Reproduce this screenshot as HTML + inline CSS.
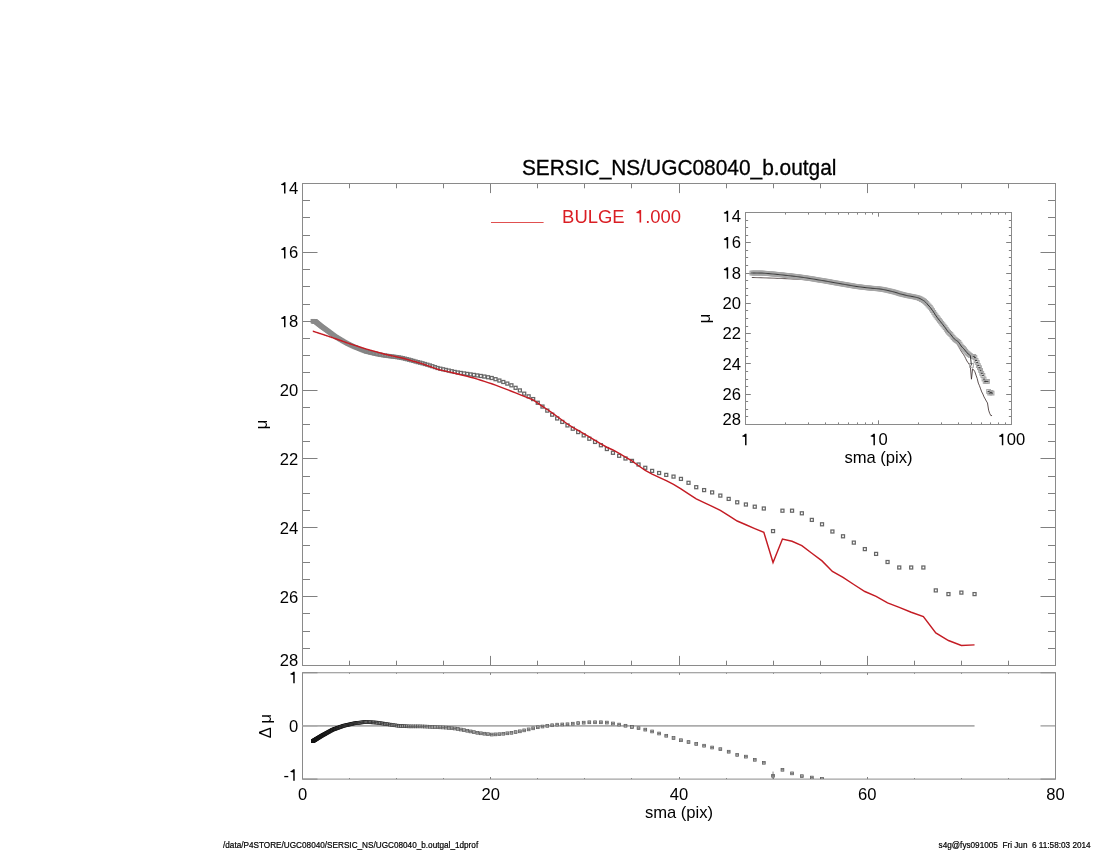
<!DOCTYPE html>
<html><head><meta charset="utf-8"><title>SERSIC_NS/UGC08040_b.outgal</title>
<style>
html,body{margin:0;padding:0;background:#fff;width:1100px;height:850px;overflow:hidden;}
svg{display:block;filter:blur(0.3px);font-family:"Liberation Sans",sans-serif;}
</style></head><body>
<svg width="1100" height="850" viewBox="0 0 1100 850">
<defs>
<clipPath id="cm"><rect x="302.5" y="183.5" width="753.0" height="482.0"/></clipPath>
<clipPath id="cr"><rect x="302.5" y="672.75" width="753.0" height="106.35000000000002"/></clipPath>
<clipPath id="ci"><rect x="745.5" y="212.5" width="266.0" height="212.0"/></clipPath>
</defs>
<rect width="1100" height="850" fill="#fff"/>
<line x1="302.50" y1="665.50" x2="302.50" y2="655.90" stroke="#808080" stroke-width="1"/>
<line x1="302.50" y1="183.50" x2="302.50" y2="193.10" stroke="#808080" stroke-width="1"/>
<line x1="349.50" y1="665.50" x2="349.50" y2="660.70" stroke="#808080" stroke-width="1"/>
<line x1="349.50" y1="183.50" x2="349.50" y2="188.30" stroke="#808080" stroke-width="1"/>
<line x1="396.50" y1="665.50" x2="396.50" y2="660.70" stroke="#808080" stroke-width="1"/>
<line x1="396.50" y1="183.50" x2="396.50" y2="188.30" stroke="#808080" stroke-width="1"/>
<line x1="443.50" y1="665.50" x2="443.50" y2="660.70" stroke="#808080" stroke-width="1"/>
<line x1="443.50" y1="183.50" x2="443.50" y2="188.30" stroke="#808080" stroke-width="1"/>
<line x1="490.50" y1="665.50" x2="490.50" y2="655.90" stroke="#808080" stroke-width="1"/>
<line x1="490.50" y1="183.50" x2="490.50" y2="193.10" stroke="#808080" stroke-width="1"/>
<line x1="537.50" y1="665.50" x2="537.50" y2="660.70" stroke="#808080" stroke-width="1"/>
<line x1="537.50" y1="183.50" x2="537.50" y2="188.30" stroke="#808080" stroke-width="1"/>
<line x1="584.50" y1="665.50" x2="584.50" y2="660.70" stroke="#808080" stroke-width="1"/>
<line x1="584.50" y1="183.50" x2="584.50" y2="188.30" stroke="#808080" stroke-width="1"/>
<line x1="631.50" y1="665.50" x2="631.50" y2="660.70" stroke="#808080" stroke-width="1"/>
<line x1="631.50" y1="183.50" x2="631.50" y2="188.30" stroke="#808080" stroke-width="1"/>
<line x1="679.50" y1="665.50" x2="679.50" y2="655.90" stroke="#808080" stroke-width="1"/>
<line x1="679.50" y1="183.50" x2="679.50" y2="193.10" stroke="#808080" stroke-width="1"/>
<line x1="726.50" y1="665.50" x2="726.50" y2="660.70" stroke="#808080" stroke-width="1"/>
<line x1="726.50" y1="183.50" x2="726.50" y2="188.30" stroke="#808080" stroke-width="1"/>
<line x1="773.50" y1="665.50" x2="773.50" y2="660.70" stroke="#808080" stroke-width="1"/>
<line x1="773.50" y1="183.50" x2="773.50" y2="188.30" stroke="#808080" stroke-width="1"/>
<line x1="820.50" y1="665.50" x2="820.50" y2="660.70" stroke="#808080" stroke-width="1"/>
<line x1="820.50" y1="183.50" x2="820.50" y2="188.30" stroke="#808080" stroke-width="1"/>
<line x1="867.50" y1="665.50" x2="867.50" y2="655.90" stroke="#808080" stroke-width="1"/>
<line x1="867.50" y1="183.50" x2="867.50" y2="193.10" stroke="#808080" stroke-width="1"/>
<line x1="914.50" y1="665.50" x2="914.50" y2="660.70" stroke="#808080" stroke-width="1"/>
<line x1="914.50" y1="183.50" x2="914.50" y2="188.30" stroke="#808080" stroke-width="1"/>
<line x1="961.50" y1="665.50" x2="961.50" y2="660.70" stroke="#808080" stroke-width="1"/>
<line x1="961.50" y1="183.50" x2="961.50" y2="188.30" stroke="#808080" stroke-width="1"/>
<line x1="1008.50" y1="665.50" x2="1008.50" y2="660.70" stroke="#808080" stroke-width="1"/>
<line x1="1008.50" y1="183.50" x2="1008.50" y2="188.30" stroke="#808080" stroke-width="1"/>
<line x1="1055.50" y1="665.50" x2="1055.50" y2="655.90" stroke="#808080" stroke-width="1"/>
<line x1="1055.50" y1="183.50" x2="1055.50" y2="193.10" stroke="#808080" stroke-width="1"/>
<line x1="302.50" y1="183.50" x2="317.50" y2="183.50" stroke="#808080" stroke-width="1"/>
<line x1="1055.50" y1="183.50" x2="1040.50" y2="183.50" stroke="#808080" stroke-width="1"/>
<line x1="302.50" y1="200.50" x2="310.00" y2="200.50" stroke="#808080" stroke-width="1"/>
<line x1="1055.50" y1="200.50" x2="1048.00" y2="200.50" stroke="#808080" stroke-width="1"/>
<line x1="302.50" y1="217.50" x2="310.00" y2="217.50" stroke="#808080" stroke-width="1"/>
<line x1="1055.50" y1="217.50" x2="1048.00" y2="217.50" stroke="#808080" stroke-width="1"/>
<line x1="302.50" y1="235.50" x2="310.00" y2="235.50" stroke="#808080" stroke-width="1"/>
<line x1="1055.50" y1="235.50" x2="1048.00" y2="235.50" stroke="#808080" stroke-width="1"/>
<line x1="302.50" y1="252.50" x2="317.50" y2="252.50" stroke="#808080" stroke-width="1"/>
<line x1="1055.50" y1="252.50" x2="1040.50" y2="252.50" stroke="#808080" stroke-width="1"/>
<line x1="302.50" y1="269.50" x2="310.00" y2="269.50" stroke="#808080" stroke-width="1"/>
<line x1="1055.50" y1="269.50" x2="1048.00" y2="269.50" stroke="#808080" stroke-width="1"/>
<line x1="302.50" y1="286.50" x2="310.00" y2="286.50" stroke="#808080" stroke-width="1"/>
<line x1="1055.50" y1="286.50" x2="1048.00" y2="286.50" stroke="#808080" stroke-width="1"/>
<line x1="302.50" y1="304.50" x2="310.00" y2="304.50" stroke="#808080" stroke-width="1"/>
<line x1="1055.50" y1="304.50" x2="1048.00" y2="304.50" stroke="#808080" stroke-width="1"/>
<line x1="302.50" y1="321.50" x2="317.50" y2="321.50" stroke="#808080" stroke-width="1"/>
<line x1="1055.50" y1="321.50" x2="1040.50" y2="321.50" stroke="#808080" stroke-width="1"/>
<line x1="302.50" y1="338.50" x2="310.00" y2="338.50" stroke="#808080" stroke-width="1"/>
<line x1="1055.50" y1="338.50" x2="1048.00" y2="338.50" stroke="#808080" stroke-width="1"/>
<line x1="302.50" y1="355.50" x2="310.00" y2="355.50" stroke="#808080" stroke-width="1"/>
<line x1="1055.50" y1="355.50" x2="1048.00" y2="355.50" stroke="#808080" stroke-width="1"/>
<line x1="302.50" y1="372.50" x2="310.00" y2="372.50" stroke="#808080" stroke-width="1"/>
<line x1="1055.50" y1="372.50" x2="1048.00" y2="372.50" stroke="#808080" stroke-width="1"/>
<line x1="302.50" y1="390.50" x2="317.50" y2="390.50" stroke="#808080" stroke-width="1"/>
<line x1="1055.50" y1="390.50" x2="1040.50" y2="390.50" stroke="#808080" stroke-width="1"/>
<line x1="302.50" y1="407.50" x2="310.00" y2="407.50" stroke="#808080" stroke-width="1"/>
<line x1="1055.50" y1="407.50" x2="1048.00" y2="407.50" stroke="#808080" stroke-width="1"/>
<line x1="302.50" y1="424.50" x2="310.00" y2="424.50" stroke="#808080" stroke-width="1"/>
<line x1="1055.50" y1="424.50" x2="1048.00" y2="424.50" stroke="#808080" stroke-width="1"/>
<line x1="302.50" y1="441.50" x2="310.00" y2="441.50" stroke="#808080" stroke-width="1"/>
<line x1="1055.50" y1="441.50" x2="1048.00" y2="441.50" stroke="#808080" stroke-width="1"/>
<line x1="302.50" y1="458.50" x2="317.50" y2="458.50" stroke="#808080" stroke-width="1"/>
<line x1="1055.50" y1="458.50" x2="1040.50" y2="458.50" stroke="#808080" stroke-width="1"/>
<line x1="302.50" y1="476.50" x2="310.00" y2="476.50" stroke="#808080" stroke-width="1"/>
<line x1="1055.50" y1="476.50" x2="1048.00" y2="476.50" stroke="#808080" stroke-width="1"/>
<line x1="302.50" y1="493.50" x2="310.00" y2="493.50" stroke="#808080" stroke-width="1"/>
<line x1="1055.50" y1="493.50" x2="1048.00" y2="493.50" stroke="#808080" stroke-width="1"/>
<line x1="302.50" y1="510.50" x2="310.00" y2="510.50" stroke="#808080" stroke-width="1"/>
<line x1="1055.50" y1="510.50" x2="1048.00" y2="510.50" stroke="#808080" stroke-width="1"/>
<line x1="302.50" y1="527.50" x2="317.50" y2="527.50" stroke="#808080" stroke-width="1"/>
<line x1="1055.50" y1="527.50" x2="1040.50" y2="527.50" stroke="#808080" stroke-width="1"/>
<line x1="302.50" y1="545.50" x2="310.00" y2="545.50" stroke="#808080" stroke-width="1"/>
<line x1="1055.50" y1="545.50" x2="1048.00" y2="545.50" stroke="#808080" stroke-width="1"/>
<line x1="302.50" y1="562.50" x2="310.00" y2="562.50" stroke="#808080" stroke-width="1"/>
<line x1="1055.50" y1="562.50" x2="1048.00" y2="562.50" stroke="#808080" stroke-width="1"/>
<line x1="302.50" y1="579.50" x2="310.00" y2="579.50" stroke="#808080" stroke-width="1"/>
<line x1="1055.50" y1="579.50" x2="1048.00" y2="579.50" stroke="#808080" stroke-width="1"/>
<line x1="302.50" y1="596.50" x2="317.50" y2="596.50" stroke="#808080" stroke-width="1"/>
<line x1="1055.50" y1="596.50" x2="1040.50" y2="596.50" stroke="#808080" stroke-width="1"/>
<line x1="302.50" y1="613.50" x2="310.00" y2="613.50" stroke="#808080" stroke-width="1"/>
<line x1="1055.50" y1="613.50" x2="1048.00" y2="613.50" stroke="#808080" stroke-width="1"/>
<line x1="302.50" y1="631.50" x2="310.00" y2="631.50" stroke="#808080" stroke-width="1"/>
<line x1="1055.50" y1="631.50" x2="1048.00" y2="631.50" stroke="#808080" stroke-width="1"/>
<line x1="302.50" y1="648.50" x2="310.00" y2="648.50" stroke="#808080" stroke-width="1"/>
<line x1="1055.50" y1="648.50" x2="1048.00" y2="648.50" stroke="#808080" stroke-width="1"/>
<line x1="302.50" y1="665.50" x2="317.50" y2="665.50" stroke="#808080" stroke-width="1"/>
<line x1="1055.50" y1="665.50" x2="1040.50" y2="665.50" stroke="#808080" stroke-width="1"/>
<rect x="302.5" y="183.5" width="753.0" height="482.0" fill="none" stroke="#8a8a8a" stroke-width="1"/>
<text x="279.84" y="193.60" font-size="16.6" fill="#000"> 4</text>
<path d="M515,0 L515,1015 L170,1065 L170,1180 Q400,1225 515,1409 L696,1409 L696,0 Z" fill="#000" transform="translate(279.84 193.60) scale(0.008105 -0.008105)"/>
<text x="279.84" y="258.46" font-size="16.6" fill="#000"> 6</text>
<path d="M515,0 L515,1015 L170,1065 L170,1180 Q400,1225 515,1409 L696,1409 L696,0 Z" fill="#000" transform="translate(279.84 258.46) scale(0.008105 -0.008105)"/>
<text x="279.84" y="327.31" font-size="16.6" fill="#000"> 8</text>
<path d="M515,0 L515,1015 L170,1065 L170,1180 Q400,1225 515,1409 L696,1409 L696,0 Z" fill="#000" transform="translate(279.84 327.31) scale(0.008105 -0.008105)"/>
<text x="279.84" y="396.17" font-size="16.6" fill="#000">20</text>
<text x="279.84" y="465.03" font-size="16.6" fill="#000">22</text>
<text x="279.84" y="533.89" font-size="16.6" fill="#000">24</text>
<text x="279.84" y="602.74" font-size="16.6" fill="#000">26</text>
<text x="279.84" y="665.70" font-size="16.6" fill="#000">28</text>
<line x1="302.50" y1="779.10" x2="302.50" y2="777.00" stroke="#808080" stroke-width="1"/>
<line x1="302.50" y1="672.75" x2="302.50" y2="674.85" stroke="#808080" stroke-width="1"/>
<line x1="349.50" y1="779.10" x2="349.50" y2="778.05" stroke="#808080" stroke-width="1"/>
<line x1="349.50" y1="672.75" x2="349.50" y2="673.80" stroke="#808080" stroke-width="1"/>
<line x1="396.50" y1="779.10" x2="396.50" y2="778.05" stroke="#808080" stroke-width="1"/>
<line x1="396.50" y1="672.75" x2="396.50" y2="673.80" stroke="#808080" stroke-width="1"/>
<line x1="443.50" y1="779.10" x2="443.50" y2="778.05" stroke="#808080" stroke-width="1"/>
<line x1="443.50" y1="672.75" x2="443.50" y2="673.80" stroke="#808080" stroke-width="1"/>
<line x1="490.50" y1="779.10" x2="490.50" y2="777.00" stroke="#808080" stroke-width="1"/>
<line x1="490.50" y1="672.75" x2="490.50" y2="674.85" stroke="#808080" stroke-width="1"/>
<line x1="537.50" y1="779.10" x2="537.50" y2="778.05" stroke="#808080" stroke-width="1"/>
<line x1="537.50" y1="672.75" x2="537.50" y2="673.80" stroke="#808080" stroke-width="1"/>
<line x1="584.50" y1="779.10" x2="584.50" y2="778.05" stroke="#808080" stroke-width="1"/>
<line x1="584.50" y1="672.75" x2="584.50" y2="673.80" stroke="#808080" stroke-width="1"/>
<line x1="631.50" y1="779.10" x2="631.50" y2="778.05" stroke="#808080" stroke-width="1"/>
<line x1="631.50" y1="672.75" x2="631.50" y2="673.80" stroke="#808080" stroke-width="1"/>
<line x1="679.50" y1="779.10" x2="679.50" y2="777.00" stroke="#808080" stroke-width="1"/>
<line x1="679.50" y1="672.75" x2="679.50" y2="674.85" stroke="#808080" stroke-width="1"/>
<line x1="726.50" y1="779.10" x2="726.50" y2="778.05" stroke="#808080" stroke-width="1"/>
<line x1="726.50" y1="672.75" x2="726.50" y2="673.80" stroke="#808080" stroke-width="1"/>
<line x1="773.50" y1="779.10" x2="773.50" y2="778.05" stroke="#808080" stroke-width="1"/>
<line x1="773.50" y1="672.75" x2="773.50" y2="673.80" stroke="#808080" stroke-width="1"/>
<line x1="820.50" y1="779.10" x2="820.50" y2="778.05" stroke="#808080" stroke-width="1"/>
<line x1="820.50" y1="672.75" x2="820.50" y2="673.80" stroke="#808080" stroke-width="1"/>
<line x1="867.50" y1="779.10" x2="867.50" y2="777.00" stroke="#808080" stroke-width="1"/>
<line x1="867.50" y1="672.75" x2="867.50" y2="674.85" stroke="#808080" stroke-width="1"/>
<line x1="914.50" y1="779.10" x2="914.50" y2="778.05" stroke="#808080" stroke-width="1"/>
<line x1="914.50" y1="672.75" x2="914.50" y2="673.80" stroke="#808080" stroke-width="1"/>
<line x1="961.50" y1="779.10" x2="961.50" y2="778.05" stroke="#808080" stroke-width="1"/>
<line x1="961.50" y1="672.75" x2="961.50" y2="673.80" stroke="#808080" stroke-width="1"/>
<line x1="1008.50" y1="779.10" x2="1008.50" y2="778.05" stroke="#808080" stroke-width="1"/>
<line x1="1008.50" y1="672.75" x2="1008.50" y2="673.80" stroke="#808080" stroke-width="1"/>
<line x1="1055.50" y1="779.10" x2="1055.50" y2="777.00" stroke="#808080" stroke-width="1"/>
<line x1="1055.50" y1="672.75" x2="1055.50" y2="674.85" stroke="#808080" stroke-width="1"/>
<line x1="302.50" y1="779.10" x2="317.50" y2="779.10" stroke="#808080" stroke-width="1"/>
<line x1="1055.50" y1="779.10" x2="1040.50" y2="779.10" stroke="#808080" stroke-width="1"/>
<line x1="302.50" y1="725.92" x2="317.50" y2="725.92" stroke="#808080" stroke-width="1"/>
<line x1="1055.50" y1="725.92" x2="1040.50" y2="725.92" stroke="#808080" stroke-width="1"/>
<line x1="302.50" y1="672.75" x2="317.50" y2="672.75" stroke="#808080" stroke-width="1"/>
<line x1="1055.50" y1="672.75" x2="1040.50" y2="672.75" stroke="#808080" stroke-width="1"/>
<rect x="302.5" y="672.75" width="753.0" height="106.35000000000002" fill="none" stroke="#8a8a8a" stroke-width="1"/>
<text x="289.07" y="683.15" font-size="16.6" fill="#000"> </text>
<path d="M515,0 L515,1015 L170,1065 L170,1180 Q400,1225 515,1409 L696,1409 L696,0 Z" fill="#000" transform="translate(289.07 683.15) scale(0.008105 -0.008105)"/>
<text x="298.30" y="732.32" font-size="16.6" text-anchor="end" fill="#000">0</text>
<text x="283.54" y="780.70" font-size="16.6" fill="#000">&#45; </text>
<path d="M515,0 L515,1015 L170,1065 L170,1180 Q400,1225 515,1409 L696,1409 L696,0 Z" fill="#000" transform="translate(289.07 780.70) scale(0.008105 -0.008105)"/>
<text x="302.50" y="800.30" font-size="16.6" text-anchor="middle" fill="#000">0</text>
<text x="490.75" y="800.30" font-size="16.6" text-anchor="middle" fill="#000">20</text>
<text x="679.00" y="800.30" font-size="16.6" text-anchor="middle" fill="#000">40</text>
<text x="867.25" y="800.30" font-size="16.6" text-anchor="middle" fill="#000">60</text>
<text x="1055.50" y="800.30" font-size="16.6" text-anchor="middle" fill="#000">80</text>
<text x="679.00" y="818.40" font-size="16.6" text-anchor="middle" fill="#000">sma (pix)</text>
<line x1="302.50" y1="725.92" x2="974.55" y2="725.92" stroke="#acacac" stroke-width="1.6"/>
<text x="679.20" y="175.30" font-size="20.9" text-anchor="middle" fill="#000" transform="translate(0 175.30) scale(1 1.05) translate(0 -175.30)" stroke="#000" stroke-width="0.3">SERSIC_NS/UGC08040_b.outgal</text>
<line x1="491.00" y1="222.50" x2="543.60" y2="222.50" stroke="#e05050" stroke-width="1"/>
<text x="562.10" y="222.60" font-size="18.45" text-anchor="start" fill="#da1e24">BULGE</text>
<text x="634.90" y="222.60" font-size="18.45" fill="#da1e24"> .000</text>
<path d="M515,0 L515,1015 L170,1065 L170,1180 Q400,1225 515,1409 L696,1409 L696,0 Z" fill="#da1e24" transform="translate(634.90 222.60) scale(0.009009 -0.009009)"/>
<text x="266.80" y="424.50" font-size="16.6" text-anchor="middle" fill="#000" transform="rotate(-90 266.80 424.50)">&#956;</text>
<text x="271.30" y="726.00" font-size="16.6" text-anchor="middle" fill="#000" transform="rotate(-90 271.30 726.00)">&#916; &#956;</text>
<text x="709.80" y="318.40" font-size="16.6" text-anchor="middle" fill="#000" transform="rotate(-90 709.80 318.40)">&#956;</text>
<g clip-path="url(#cm)" fill="none" stroke-width="1.25"><rect x="311.30" y="319.60" width="3" height="3" stroke="#8a8a8a"/><rect x="311.50" y="319.61" width="3" height="3" stroke="#8a8a8a"/><rect x="311.71" y="319.62" width="3" height="3" stroke="#8a8a8a"/><rect x="311.93" y="319.63" width="3" height="3" stroke="#8a8a8a"/><rect x="312.15" y="319.64" width="3" height="3" stroke="#8a8a8a"/><rect x="312.37" y="319.65" width="3" height="3" stroke="#8a8a8a"/><rect x="312.60" y="319.66" width="3" height="3" stroke="#8a8a8a"/><rect x="312.83" y="319.67" width="3" height="3" stroke="#8a8a8a"/><rect x="313.07" y="319.68" width="3" height="3" stroke="#8a8a8a"/><rect x="313.31" y="319.69" width="3" height="3" stroke="#8a8a8a"/><rect x="313.55" y="319.74" width="3" height="3" stroke="#8a8a8a"/><rect x="313.80" y="319.94" width="3" height="3" stroke="#8a8a8a"/><rect x="314.06" y="320.15" width="3" height="3" stroke="#8a8a8a"/><rect x="314.32" y="320.36" width="3" height="3" stroke="#8a8a8a"/><rect x="314.59" y="320.57" width="3" height="3" stroke="#8a8a8a"/><rect x="314.86" y="320.79" width="3" height="3" stroke="#8a8a8a"/><rect x="315.14" y="321.01" width="3" height="3" stroke="#8a8a8a"/><rect x="315.42" y="321.24" width="3" height="3" stroke="#8a8a8a"/><rect x="315.71" y="321.47" width="3" height="3" stroke="#8a8a8a"/><rect x="316.00" y="321.71" width="3" height="3" stroke="#8a8a8a"/><rect x="316.30" y="321.95" width="3" height="3" stroke="#8a8a8a"/><rect x="316.61" y="322.20" width="3" height="3" stroke="#8a8a8a"/><rect x="316.92" y="322.45" width="3" height="3" stroke="#8a8a8a"/><rect x="317.24" y="322.70" width="3" height="3" stroke="#8a8a8a"/><rect x="317.56" y="322.96" width="3" height="3" stroke="#8a8a8a"/><rect x="317.90" y="323.23" width="3" height="3" stroke="#8a8a8a"/><rect x="318.23" y="323.50" width="3" height="3" stroke="#8a8a8a"/><rect x="318.58" y="323.78" width="3" height="3" stroke="#8a8a8a"/><rect x="318.93" y="324.06" width="3" height="3" stroke="#8a8a8a"/><rect x="319.29" y="324.35" width="3" height="3" stroke="#8a8a8a"/><rect x="319.65" y="324.64" width="3" height="3" stroke="#8a8a8a"/><rect x="320.03" y="324.94" width="3" height="3" stroke="#8a8a8a"/><rect x="320.41" y="325.22" width="3" height="3" stroke="#8a8a8a"/><rect x="320.80" y="325.50" width="3" height="3" stroke="#8a8a8a"/><rect x="321.19" y="325.78" width="3" height="3" stroke="#8a8a8a"/><rect x="321.60" y="326.07" width="3" height="3" stroke="#8a8a8a"/><rect x="322.01" y="326.37" width="3" height="3" stroke="#8a8a8a"/><rect x="322.43" y="326.67" width="3" height="3" stroke="#8a8a8a"/><rect x="322.86" y="326.98" width="3" height="3" stroke="#8a8a8a"/><rect x="323.29" y="327.29" width="3" height="3" stroke="#8a8a8a"/><rect x="323.74" y="327.61" width="3" height="3" stroke="#8a8a8a"/><rect x="324.19" y="327.94" width="3" height="3" stroke="#8a8a8a"/><rect x="324.66" y="328.27" width="3" height="3" stroke="#8a8a8a"/><rect x="325.13" y="328.62" width="3" height="3" stroke="#8a8a8a"/><rect x="325.61" y="328.97" width="3" height="3" stroke="#8a8a8a"/><rect x="326.11" y="329.33" width="3" height="3" stroke="#8a8a8a"/><rect x="326.61" y="329.70" width="3" height="3" stroke="#8a8a8a"/><rect x="327.12" y="330.07" width="3" height="3" stroke="#8a8a8a"/><rect x="327.64" y="330.46" width="3" height="3" stroke="#8a8a8a"/><rect x="328.18" y="330.85" width="3" height="3" stroke="#8a8a8a"/><rect x="328.72" y="331.25" width="3" height="3" stroke="#8a8a8a"/><rect x="329.27" y="331.65" width="3" height="3" stroke="#8a8a8a"/><rect x="329.84" y="332.07" width="3" height="3" stroke="#8a8a8a"/><rect x="330.42" y="332.50" width="3" height="3" stroke="#8a8a8a"/><rect x="331.00" y="332.93" width="3" height="3" stroke="#8a8a8a"/><rect x="331.60" y="333.38" width="3" height="3" stroke="#8a8a8a"/><rect x="332.22" y="333.83" width="3" height="3" stroke="#8a8a8a"/><rect x="332.84" y="334.29" width="3" height="3" stroke="#8a8a8a"/><rect x="333.48" y="334.76" width="3" height="3" stroke="#8a8a8a"/><rect x="334.13" y="335.20" width="3" height="3" stroke="#8a8a8a"/><rect x="334.79" y="335.59" width="3" height="3" stroke="#8a8a8a"/><rect x="335.46" y="335.99" width="3" height="3" stroke="#8a8a8a"/><rect x="336.15" y="336.40" width="3" height="3" stroke="#8a8a8a"/><rect x="336.86" y="336.82" width="3" height="3" stroke="#8a8a8a"/><rect x="337.57" y="337.25" width="3" height="3" stroke="#8a8a8a"/><rect x="338.31" y="337.69" width="3" height="3" stroke="#8a8a8a"/><rect x="339.05" y="338.12" width="3" height="3" stroke="#8a8a8a"/><rect x="339.81" y="338.57" width="3" height="3" stroke="#8a8a8a"/><rect x="340.59" y="339.03" width="3" height="3" stroke="#8a8a8a"/><rect x="341.38" y="339.51" width="3" height="3" stroke="#8a8a8a"/><rect x="342.19" y="340.01" width="3" height="3" stroke="#8a8a8a"/><rect x="343.01" y="340.47" width="3" height="3" stroke="#8a8a8a"/><rect x="343.85" y="340.94" width="3" height="3" stroke="#898989"/><rect x="344.71" y="341.43" width="3" height="3" stroke="#898989"/><rect x="345.58" y="341.92" width="3" height="3" stroke="#898989"/><rect x="346.48" y="342.37" width="3" height="3" stroke="#898989"/><rect x="347.39" y="342.80" width="3" height="3" stroke="#888888"/><rect x="348.31" y="343.24" width="3" height="3" stroke="#888888"/><rect x="349.26" y="343.69" width="3" height="3" stroke="#888888"/><rect x="350.22" y="344.15" width="3" height="3" stroke="#878787"/><rect x="351.21" y="344.61" width="3" height="3" stroke="#878787"/><rect x="352.21" y="345.09" width="3" height="3" stroke="#878787"/><rect x="353.24" y="345.55" width="3" height="3" stroke="#878787"/><rect x="354.28" y="345.97" width="3" height="3" stroke="#868686"/><rect x="355.35" y="346.40" width="3" height="3" stroke="#868686"/><rect x="356.43" y="346.83" width="3" height="3" stroke="#868686"/><rect x="357.54" y="347.28" width="3" height="3" stroke="#858585"/><rect x="358.67" y="347.73" width="3" height="3" stroke="#858585"/><rect x="359.83" y="348.19" width="3" height="3" stroke="#858585"/><rect x="361.00" y="348.67" width="3" height="3" stroke="#848484"/><rect x="362.20" y="349.15" width="3" height="3" stroke="#848484"/><rect x="363.43" y="349.64" width="3" height="3" stroke="#848484"/><rect x="364.68" y="350.06" width="3" height="3" stroke="#838383"/><rect x="365.95" y="350.38" width="3" height="3" stroke="#838383"/><rect x="367.25" y="350.69" width="3" height="3" stroke="#838383"/><rect x="368.57" y="351.01" width="3" height="3" stroke="#828282"/><rect x="369.93" y="351.33" width="3" height="3" stroke="#828282"/><rect x="371.30" y="351.67" width="3" height="3" stroke="#818181"/><rect x="372.71" y="352.00" width="3" height="3" stroke="#818181"/><rect x="374.14" y="352.35" width="3" height="3" stroke="#818181"/><rect x="375.61" y="352.66" width="3" height="3" stroke="#808080"/><rect x="377.10" y="352.93" width="3" height="3" stroke="#808080"/><rect x="378.62" y="353.21" width="3" height="3" stroke="#7f7f7f"/><rect x="380.17" y="353.49" width="3" height="3" stroke="#7f7f7f"/><rect x="381.76" y="353.77" width="3" height="3" stroke="#7e7e7e"/><rect x="383.37" y="354.05" width="3" height="3" stroke="#7e7e7e"/><rect x="385.02" y="354.26" width="3" height="3" stroke="#7e7e7e"/><rect x="386.70" y="354.48" width="3" height="3" stroke="#7d7d7d"/><rect x="388.41" y="354.70" width="3" height="3" stroke="#7d7d7d"/><rect x="390.16" y="354.93" width="3" height="3" stroke="#7c7c7c"/><rect x="391.95" y="355.16" width="3" height="3" stroke="#7c7c7c"/><rect x="393.77" y="355.40" width="3" height="3" stroke="#7b7b7b"/><rect x="395.62" y="355.64" width="3" height="3" stroke="#7b7b7b"/><rect x="397.51" y="355.94" width="3" height="3" stroke="#7a7a7a"/><rect x="399.44" y="356.30" width="3" height="3" stroke="#797979"/><rect x="401.41" y="356.69" width="3" height="3" stroke="#797979"/><rect x="403.42" y="357.18" width="3" height="3" stroke="#787878"/><rect x="405.47" y="357.68" width="3" height="3" stroke="#787878"/><rect x="407.56" y="358.20" width="3" height="3" stroke="#777777"/><rect x="409.69" y="358.79" width="3" height="3" stroke="#777777"/><rect x="411.86" y="359.40" width="3" height="3" stroke="#767676"/><rect x="414.08" y="360.03" width="3" height="3" stroke="#757575"/><rect x="416.34" y="360.63" width="3" height="3" stroke="#757575"/><rect x="418.65" y="361.16" width="3" height="3" stroke="#747474"/><rect x="421.00" y="361.81" width="3" height="3" stroke="#737373"/><rect x="423.40" y="362.50" width="3" height="3" stroke="#737373"/><rect x="425.85" y="363.20" width="3" height="3" stroke="#727272"/><rect x="428.35" y="363.94" width="3" height="3" stroke="#717171"/><rect x="430.89" y="364.72" width="3" height="3" stroke="#707070"/><rect x="433.49" y="365.61" width="3" height="3" stroke="#707070"/><rect x="436.14" y="366.51" width="3" height="3" stroke="#6f6f6f"/><rect x="438.84" y="367.18" width="3" height="3" stroke="#6e6e6e"/><rect x="441.60" y="367.80" width="3" height="3" stroke="#6d6d6d"/><rect x="444.41" y="368.44" width="3" height="3" stroke="#6d6d6d"/><rect x="447.28" y="369.08" width="3" height="3" stroke="#6c6c6c"/><rect x="450.21" y="369.74" width="3" height="3" stroke="#6b6b6b"/><rect x="453.19" y="370.42" width="3" height="3" stroke="#6a6a6a"/><rect x="456.24" y="371.00" width="3" height="3" stroke="#696969"/><rect x="459.34" y="371.46" width="3" height="3" stroke="#686868"/><rect x="462.51" y="371.93" width="3" height="3" stroke="#676767"/><rect x="465.74" y="372.42" width="3" height="3" stroke="#676767"/><rect x="469.03" y="372.91" width="3" height="3" stroke="#666666"/><rect x="472.39" y="373.41" width="3" height="3" stroke="#666666"/><rect x="475.82" y="373.93" width="3" height="3" stroke="#666666"/><rect x="479.32" y="374.47" width="3" height="3" stroke="#666666"/><rect x="482.88" y="375.05" width="3" height="3" stroke="#666666"/><rect x="486.52" y="375.77" width="3" height="3" stroke="#666666"/><rect x="490.23" y="376.51" width="3" height="3" stroke="#666666"/><rect x="494.02" y="377.69" width="3" height="3" stroke="#666666"/><rect x="497.88" y="379.05" width="3" height="3" stroke="#666666"/><rect x="501.81" y="380.50" width="3" height="3" stroke="#666666"/><rect x="505.83" y="382.09" width="3" height="3" stroke="#666666"/><rect x="509.93" y="383.82" width="3" height="3" stroke="#666666"/><rect x="514.10" y="386.32" width="3" height="3" stroke="#666666"/><rect x="518.37" y="388.92" width="3" height="3" stroke="#666666"/><rect x="522.71" y="392.17" width="3" height="3" stroke="#666666"/><rect x="527.15" y="394.85" width="3" height="3" stroke="#666666"/><rect x="531.67" y="397.58" width="3" height="3" stroke="#666666"/><rect x="536.28" y="401.28" width="3" height="3" stroke="#666666"/><rect x="540.99" y="405.06" width="3" height="3" stroke="#666666"/><rect x="545.79" y="409.12" width="3" height="3" stroke="#666666"/><rect x="550.69" y="413.20" width="3" height="3" stroke="#666666"/><rect x="555.68" y="416.96" width="3" height="3" stroke="#666666"/><rect x="560.77" y="420.42" width="3" height="3" stroke="#666666"/><rect x="565.97" y="423.92" width="3" height="3" stroke="#666666"/><rect x="571.27" y="427.22" width="3" height="3" stroke="#666666"/><rect x="576.67" y="430.58" width="3" height="3" stroke="#666666"/><rect x="582.19" y="433.87" width="3" height="3" stroke="#666666"/><rect x="587.81" y="437.22" width="3" height="3" stroke="#666666"/><rect x="593.55" y="440.44" width="3" height="3" stroke="#666666"/><rect x="599.40" y="443.75" width="3" height="3" stroke="#666666"/><rect x="605.37" y="447.52" width="3" height="3" stroke="#666666"/><rect x="611.45" y="451.30" width="3" height="3" stroke="#666666"/><rect x="617.66" y="454.30" width="3" height="3" stroke="#666666"/><rect x="624.00" y="457.00" width="3" height="3" stroke="#666666"/><rect x="630.46" y="459.40" width="3" height="3" stroke="#666666"/><rect x="637.04" y="463.00" width="3" height="3" stroke="#666666"/><rect x="643.77" y="466.30" width="3" height="3" stroke="#666666"/><rect x="650.62" y="469.40" width="3" height="3" stroke="#666666"/><rect x="657.61" y="471.50" width="3" height="3" stroke="#666666"/><rect x="664.75" y="473.40" width="3" height="3" stroke="#666666"/><rect x="672.02" y="475.10" width="3" height="3" stroke="#666666"/><rect x="679.44" y="477.40" width="3" height="3" stroke="#666666"/><rect x="687.01" y="481.30" width="3" height="3" stroke="#666666"/><rect x="694.73" y="485.70" width="3" height="3" stroke="#666666"/><rect x="702.60" y="488.60" width="3" height="3" stroke="#666666"/><rect x="710.64" y="490.90" width="3" height="3" stroke="#666666"/><rect x="718.83" y="494.10" width="3" height="3" stroke="#666666"/><rect x="727.19" y="497.40" width="3" height="3" stroke="#666666"/><rect x="735.71" y="500.80" width="3" height="3" stroke="#666666"/><rect x="744.40" y="503.00" width="3" height="3" stroke="#666666"/><rect x="753.27" y="505.20" width="3" height="3" stroke="#666666"/><rect x="762.32" y="507.00" width="3" height="3" stroke="#666666"/><rect x="771.54" y="529.60" width="3" height="3" stroke="#666666"/><rect x="780.95" y="509.20" width="3" height="3" stroke="#666666"/><rect x="790.55" y="509.20" width="3" height="3" stroke="#666666"/><rect x="800.34" y="511.80" width="3" height="3" stroke="#666666"/><rect x="810.33" y="518.40" width="3" height="3" stroke="#666666"/><rect x="820.52" y="522.80" width="3" height="3" stroke="#666666"/><rect x="830.91" y="530.00" width="3" height="3" stroke="#666666"/><rect x="841.51" y="534.80" width="3" height="3" stroke="#666666"/><rect x="852.32" y="541.10" width="3" height="3" stroke="#666666"/><rect x="863.34" y="547.60" width="3" height="3" stroke="#666666"/><rect x="874.59" y="552.40" width="3" height="3" stroke="#666666"/><rect x="886.06" y="560.50" width="3" height="3" stroke="#666666"/><rect x="897.76" y="566.00" width="3" height="3" stroke="#666666"/><rect x="909.70" y="566.00" width="3" height="3" stroke="#666666"/><rect x="921.87" y="566.00" width="3" height="3" stroke="#666666"/><rect x="934.29" y="588.90" width="3" height="3" stroke="#666666"/><rect x="946.96" y="592.60" width="3" height="3" stroke="#666666"/><rect x="959.88" y="591.10" width="3" height="3" stroke="#666666"/><rect x="973.05" y="592.60" width="3" height="3" stroke="#666666"/></g>
<polyline clip-path="url(#cm)" points="312.80,331.30 313.00,331.30 313.21,331.30 313.43,331.37 313.65,331.45 313.87,331.52 314.10,331.59 314.33,331.67 314.57,331.75 314.81,331.83 315.05,331.91 315.30,331.99 315.56,332.07 315.82,332.16 316.09,332.25 316.36,332.33 316.64,332.43 316.92,332.52 317.21,332.61 317.50,332.71 317.80,332.81 318.11,332.91 318.42,333.01 318.74,333.11 319.06,333.22 319.40,333.33 319.73,333.44 320.08,333.55 320.43,333.67 320.79,333.78 321.15,333.90 321.53,334.03 321.91,334.15 322.30,334.28 322.69,334.41 323.10,334.54 323.51,334.67 323.93,334.81 324.36,334.95 324.79,335.10 325.24,335.24 325.69,335.39 326.16,335.54 326.63,335.70 327.11,335.86 327.61,336.02 328.11,336.18 328.62,336.35 329.14,336.52 329.68,336.69 330.22,336.88 330.77,337.07 331.34,337.27 331.92,337.47 332.50,337.68 333.10,337.89 333.72,338.11 334.34,338.33 334.98,338.55 335.63,338.78 336.29,339.01 336.96,339.25 337.65,339.49 338.36,339.74 339.07,339.99 339.81,340.25 340.55,340.51 341.31,340.78 342.09,341.05 342.88,341.33 343.69,341.61 344.51,341.90 345.35,342.20 346.21,342.50 347.08,342.81 347.98,343.12 348.89,343.42 349.81,343.72 350.76,344.03 351.72,344.34 352.71,344.66 353.71,344.99 354.74,345.32 355.78,345.66 356.85,346.00 357.93,346.36 359.04,346.72 360.17,347.08 361.33,347.46 362.50,347.84 363.70,348.23 364.93,348.62 366.18,349.03 367.45,349.39 368.75,349.75 370.07,350.12 371.43,350.49 372.80,350.87 374.21,351.26 375.64,351.65 377.11,352.06 378.60,352.47 380.12,352.89 381.67,353.32 383.26,353.76 384.87,354.18 386.52,354.56 388.20,354.93 389.91,355.32 391.66,355.71 393.45,356.12 395.27,356.53 397.12,356.94 399.01,357.37 400.94,357.80 402.91,358.26 404.92,358.82 406.97,359.40 409.06,359.99 411.19,360.58 413.36,361.20 415.58,361.82 417.84,362.45 420.15,363.10 422.50,363.91 424.90,364.77 427.35,365.64 429.85,366.53 432.39,367.43 434.99,368.36 437.64,369.30 440.34,369.98 443.10,370.60 445.91,371.24 448.78,371.88 451.71,372.54 454.69,373.22 457.74,373.94 460.84,374.73 464.01,375.53 467.24,376.35 470.53,377.19 473.89,378.05 477.32,379.11 480.82,380.25 484.38,381.40 488.02,382.58 491.73,383.79 495.52,385.17 499.38,386.63 503.31,388.12 507.33,389.65 511.43,391.21 515.60,392.90 519.87,394.62 524.21,396.37 528.65,398.16 533.17,399.99 537.78,403.10 542.49,406.28 547.29,409.52 552.19,412.87 557.18,416.52 562.27,420.23 567.47,424.02 572.77,427.37 578.17,430.46 583.69,433.61 589.31,436.86 595.05,440.30 600.90,443.80 606.87,447.24 612.95,449.98 619.16,453.33 625.50,457.02 631.96,460.82 638.54,465.77 645.27,470.31 652.12,474.09 659.11,477.38 666.25,480.67 673.52,484.31 680.94,488.84 688.51,493.77 696.23,498.80 704.10,502.56 712.14,506.30 720.33,510.39 728.69,515.66 737.21,521.04 745.90,524.78 754.77,528.58 763.82,532.40 773.04,562.50 782.45,539.00 792.05,541.30 801.84,545.60 811.83,553.30 822.02,560.90 832.41,571.40 843.01,577.30 853.82,584.50 864.84,591.50 876.09,596.30 887.56,602.80 899.26,607.40 911.20,612.20 923.37,616.50 935.79,632.90 948.46,640.50 961.38,645.40 974.55,644.90" fill="none" stroke="#c41c24" stroke-width="1.45" stroke-linejoin="miter"/>
<g clip-path="url(#cr)" fill="#cccccc" stroke-width="0.75"><rect x="311.40" y="739.79" width="2.8" height="2.8" stroke="#080808"/><line x1="311.40" y1="741.19" x2="314.20" y2="741.19" stroke="#080808"/><rect x="311.60" y="739.67" width="2.8" height="2.8" stroke="#080808"/><line x1="311.60" y1="741.07" x2="314.40" y2="741.07" stroke="#080808"/><rect x="311.81" y="739.54" width="2.8" height="2.8" stroke="#080808"/><line x1="311.81" y1="740.94" x2="314.61" y2="740.94" stroke="#080808"/><rect x="312.03" y="739.41" width="2.8" height="2.8" stroke="#080808"/><line x1="312.03" y1="740.81" x2="314.83" y2="740.81" stroke="#080808"/><rect x="312.25" y="739.27" width="2.8" height="2.8" stroke="#080808"/><line x1="312.25" y1="740.67" x2="315.05" y2="740.67" stroke="#080808"/><rect x="312.47" y="739.14" width="2.8" height="2.8" stroke="#080808"/><line x1="312.47" y1="740.54" x2="315.27" y2="740.54" stroke="#080808"/><rect x="312.70" y="739.00" width="2.8" height="2.8" stroke="#080808"/><line x1="312.70" y1="740.40" x2="315.50" y2="740.40" stroke="#080808"/><rect x="312.93" y="738.85" width="2.8" height="2.8" stroke="#080808"/><line x1="312.93" y1="740.25" x2="315.73" y2="740.25" stroke="#080808"/><rect x="313.17" y="738.71" width="2.8" height="2.8" stroke="#080808"/><line x1="313.17" y1="740.11" x2="315.97" y2="740.11" stroke="#080808"/><rect x="313.41" y="738.56" width="2.8" height="2.8" stroke="#080808"/><line x1="313.41" y1="739.96" x2="316.21" y2="739.96" stroke="#080808"/><rect x="313.65" y="738.41" width="2.8" height="2.8" stroke="#080808"/><line x1="313.65" y1="739.81" x2="316.45" y2="739.81" stroke="#080808"/><rect x="313.90" y="738.26" width="2.8" height="2.8" stroke="#080808"/><line x1="313.90" y1="739.66" x2="316.70" y2="739.66" stroke="#080808"/><rect x="314.16" y="738.10" width="2.8" height="2.8" stroke="#080808"/><line x1="314.16" y1="739.50" x2="316.96" y2="739.50" stroke="#080808"/><rect x="314.42" y="737.94" width="2.8" height="2.8" stroke="#080808"/><line x1="314.42" y1="739.34" x2="317.22" y2="739.34" stroke="#080808"/><rect x="314.69" y="737.78" width="2.8" height="2.8" stroke="#080808"/><line x1="314.69" y1="739.18" x2="317.49" y2="739.18" stroke="#080808"/><rect x="314.96" y="737.61" width="2.8" height="2.8" stroke="#080808"/><line x1="314.96" y1="739.01" x2="317.76" y2="739.01" stroke="#080808"/><rect x="315.24" y="737.44" width="2.8" height="2.8" stroke="#080808"/><line x1="315.24" y1="738.84" x2="318.04" y2="738.84" stroke="#080808"/><rect x="315.52" y="737.27" width="2.8" height="2.8" stroke="#080808"/><line x1="315.52" y1="738.67" x2="318.32" y2="738.67" stroke="#080808"/><rect x="315.81" y="737.09" width="2.8" height="2.8" stroke="#080808"/><line x1="315.81" y1="738.49" x2="318.61" y2="738.49" stroke="#080808"/><rect x="316.10" y="736.91" width="2.8" height="2.8" stroke="#080808"/><line x1="316.10" y1="738.31" x2="318.90" y2="738.31" stroke="#080808"/><rect x="316.40" y="736.72" width="2.8" height="2.8" stroke="#080808"/><line x1="316.40" y1="738.12" x2="319.20" y2="738.12" stroke="#080808"/><rect x="316.71" y="736.54" width="2.8" height="2.8" stroke="#080808"/><line x1="316.71" y1="737.94" x2="319.51" y2="737.94" stroke="#080808"/><rect x="317.02" y="736.35" width="2.8" height="2.8" stroke="#080808"/><line x1="317.02" y1="737.75" x2="319.82" y2="737.75" stroke="#080808"/><rect x="317.34" y="736.15" width="2.8" height="2.8" stroke="#080808"/><line x1="317.34" y1="737.55" x2="320.14" y2="737.55" stroke="#080808"/><rect x="317.66" y="735.95" width="2.8" height="2.8" stroke="#080808"/><line x1="317.66" y1="737.35" x2="320.46" y2="737.35" stroke="#080808"/><rect x="318.00" y="735.75" width="2.8" height="2.8" stroke="#080808"/><line x1="318.00" y1="737.15" x2="320.80" y2="737.15" stroke="#080808"/><rect x="318.33" y="735.54" width="2.8" height="2.8" stroke="#080808"/><line x1="318.33" y1="736.94" x2="321.13" y2="736.94" stroke="#080808"/><rect x="318.68" y="735.33" width="2.8" height="2.8" stroke="#080808"/><line x1="318.68" y1="736.73" x2="321.48" y2="736.73" stroke="#080808"/><rect x="319.03" y="735.11" width="2.8" height="2.8" stroke="#080808"/><line x1="319.03" y1="736.51" x2="321.83" y2="736.51" stroke="#080808"/><rect x="319.39" y="734.90" width="2.8" height="2.8" stroke="#080808"/><line x1="319.39" y1="736.30" x2="322.19" y2="736.30" stroke="#080808"/><rect x="319.75" y="734.67" width="2.8" height="2.8" stroke="#080808"/><line x1="319.75" y1="736.07" x2="322.55" y2="736.07" stroke="#080808"/><rect x="320.13" y="734.44" width="2.8" height="2.8" stroke="#080808"/><line x1="320.13" y1="735.84" x2="322.93" y2="735.84" stroke="#080808"/><rect x="320.51" y="734.22" width="2.8" height="2.8" stroke="#080808"/><line x1="320.51" y1="735.62" x2="323.31" y2="735.62" stroke="#080808"/><rect x="320.90" y="734.00" width="2.8" height="2.8" stroke="#080808"/><line x1="320.90" y1="735.40" x2="323.70" y2="735.40" stroke="#080808"/><rect x="321.29" y="733.78" width="2.8" height="2.8" stroke="#080808"/><line x1="321.29" y1="735.18" x2="324.09" y2="735.18" stroke="#080808"/><rect x="321.70" y="733.56" width="2.8" height="2.8" stroke="#080808"/><line x1="321.70" y1="734.96" x2="324.50" y2="734.96" stroke="#080808"/><rect x="322.11" y="733.34" width="2.8" height="2.8" stroke="#080808"/><line x1="322.11" y1="734.74" x2="324.91" y2="734.74" stroke="#080808"/><rect x="322.53" y="733.10" width="2.8" height="2.8" stroke="#080808"/><line x1="322.53" y1="734.50" x2="325.33" y2="734.50" stroke="#080808"/><rect x="322.96" y="732.87" width="2.8" height="2.8" stroke="#080808"/><line x1="322.96" y1="734.27" x2="325.76" y2="734.27" stroke="#080808"/><rect x="323.39" y="732.63" width="2.8" height="2.8" stroke="#080808"/><line x1="323.39" y1="734.03" x2="326.19" y2="734.03" stroke="#080808"/><rect x="323.84" y="732.38" width="2.8" height="2.8" stroke="#080808"/><line x1="323.84" y1="733.78" x2="326.64" y2="733.78" stroke="#080808"/><rect x="324.29" y="732.13" width="2.8" height="2.8" stroke="#080808"/><line x1="324.29" y1="733.53" x2="327.09" y2="733.53" stroke="#080808"/><rect x="324.76" y="731.88" width="2.8" height="2.8" stroke="#080808"/><line x1="324.76" y1="733.28" x2="327.56" y2="733.28" stroke="#080808"/><rect x="325.23" y="731.62" width="2.8" height="2.8" stroke="#080808"/><line x1="325.23" y1="733.02" x2="328.03" y2="733.02" stroke="#080808"/><rect x="325.71" y="731.35" width="2.8" height="2.8" stroke="#080808"/><line x1="325.71" y1="732.75" x2="328.51" y2="732.75" stroke="#080808"/><rect x="326.21" y="731.08" width="2.8" height="2.8" stroke="#080808"/><line x1="326.21" y1="732.48" x2="329.01" y2="732.48" stroke="#080808"/><rect x="326.71" y="730.80" width="2.8" height="2.8" stroke="#080808"/><line x1="326.71" y1="732.20" x2="329.51" y2="732.20" stroke="#080808"/><rect x="327.22" y="730.52" width="2.8" height="2.8" stroke="#080808"/><line x1="327.22" y1="731.92" x2="330.02" y2="731.92" stroke="#080808"/><rect x="327.74" y="730.23" width="2.8" height="2.8" stroke="#080808"/><line x1="327.74" y1="731.63" x2="330.54" y2="731.63" stroke="#080808"/><rect x="328.28" y="729.94" width="2.8" height="2.8" stroke="#080808"/><line x1="328.28" y1="731.34" x2="331.08" y2="731.34" stroke="#080808"/><rect x="328.82" y="729.64" width="2.8" height="2.8" stroke="#080808"/><line x1="328.82" y1="731.04" x2="331.62" y2="731.04" stroke="#080808"/><rect x="329.37" y="729.34" width="2.8" height="2.8" stroke="#080808"/><line x1="329.37" y1="730.74" x2="332.17" y2="730.74" stroke="#080808"/><rect x="329.94" y="729.02" width="2.8" height="2.8" stroke="#080808"/><line x1="329.94" y1="730.42" x2="332.74" y2="730.42" stroke="#080808"/><rect x="330.52" y="728.71" width="2.8" height="2.8" stroke="#080808"/><line x1="330.52" y1="730.11" x2="333.32" y2="730.11" stroke="#080808"/><rect x="331.10" y="728.38" width="2.8" height="2.8" stroke="#080808"/><line x1="331.10" y1="729.78" x2="333.90" y2="729.78" stroke="#080808"/><rect x="331.70" y="728.13" width="2.8" height="2.8" stroke="#080808"/><line x1="331.70" y1="729.53" x2="334.50" y2="729.53" stroke="#080808"/><rect x="332.32" y="727.91" width="2.8" height="2.8" stroke="#090909"/><line x1="332.32" y1="729.31" x2="335.12" y2="729.31" stroke="#090909"/><rect x="332.94" y="727.69" width="2.8" height="2.8" stroke="#090909"/><line x1="332.94" y1="729.09" x2="335.74" y2="729.09" stroke="#090909"/><rect x="333.58" y="727.46" width="2.8" height="2.8" stroke="#0a0a0a"/><line x1="333.58" y1="728.86" x2="336.38" y2="728.86" stroke="#0a0a0a"/><rect x="334.23" y="727.23" width="2.8" height="2.8" stroke="#0a0a0a"/><line x1="334.23" y1="728.63" x2="337.03" y2="728.63" stroke="#0a0a0a"/><rect x="334.89" y="726.99" width="2.8" height="2.8" stroke="#0b0b0b"/><line x1="334.89" y1="728.39" x2="337.69" y2="728.39" stroke="#0b0b0b"/><rect x="335.56" y="726.75" width="2.8" height="2.8" stroke="#0b0b0b"/><line x1="335.56" y1="728.15" x2="338.36" y2="728.15" stroke="#0b0b0b"/><rect x="336.25" y="726.50" width="2.8" height="2.8" stroke="#0c0c0c"/><line x1="336.25" y1="727.90" x2="339.05" y2="727.90" stroke="#0c0c0c"/><rect x="336.96" y="726.25" width="2.8" height="2.8" stroke="#0d0d0d"/><line x1="336.96" y1="727.65" x2="339.76" y2="727.65" stroke="#0d0d0d"/><rect x="337.67" y="725.99" width="2.8" height="2.8" stroke="#0d0d0d"/><line x1="337.67" y1="727.39" x2="340.47" y2="727.39" stroke="#0d0d0d"/><rect x="338.41" y="725.73" width="2.8" height="2.8" stroke="#0e0e0e"/><line x1="338.41" y1="727.13" x2="341.21" y2="727.13" stroke="#0e0e0e"/><rect x="339.15" y="725.47" width="2.8" height="2.8" stroke="#0e0e0e"/><line x1="339.15" y1="726.87" x2="341.95" y2="726.87" stroke="#0e0e0e"/><rect x="339.91" y="725.19" width="2.8" height="2.8" stroke="#0f0f0f"/><line x1="339.91" y1="726.59" x2="342.71" y2="726.59" stroke="#0f0f0f"/><rect x="340.69" y="724.92" width="2.8" height="2.8" stroke="#101010"/><line x1="340.69" y1="726.32" x2="343.49" y2="726.32" stroke="#101010"/><rect x="341.48" y="724.63" width="2.8" height="2.8" stroke="#101010"/><line x1="341.48" y1="726.03" x2="344.28" y2="726.03" stroke="#101010"/><rect x="342.29" y="724.35" width="2.8" height="2.8" stroke="#111111"/><line x1="342.29" y1="725.75" x2="345.09" y2="725.75" stroke="#111111"/><rect x="343.11" y="724.17" width="2.8" height="2.8" stroke="#121212"/><line x1="343.11" y1="725.57" x2="345.91" y2="725.57" stroke="#121212"/><rect x="343.95" y="723.97" width="2.8" height="2.8" stroke="#121212"/><line x1="343.95" y1="725.37" x2="346.75" y2="725.37" stroke="#121212"/><rect x="344.81" y="723.78" width="2.8" height="2.8" stroke="#131313"/><line x1="344.81" y1="725.18" x2="347.61" y2="725.18" stroke="#131313"/><rect x="345.68" y="723.58" width="2.8" height="2.8" stroke="#141414"/><line x1="345.68" y1="724.98" x2="348.48" y2="724.98" stroke="#141414"/><rect x="346.58" y="723.37" width="2.8" height="2.8" stroke="#141414"/><line x1="346.58" y1="724.77" x2="349.38" y2="724.77" stroke="#141414"/><rect x="347.49" y="723.16" width="2.8" height="2.8" stroke="#151515"/><line x1="347.49" y1="724.56" x2="350.29" y2="724.56" stroke="#151515"/><rect x="348.41" y="722.95" width="2.8" height="2.8" stroke="#161616"/><line x1="348.41" y1="724.35" x2="351.21" y2="724.35" stroke="#161616"/><rect x="349.36" y="722.73" width="2.8" height="2.8" stroke="#171717"/><line x1="349.36" y1="724.13" x2="352.16" y2="724.13" stroke="#171717"/><rect x="350.32" y="722.51" width="2.8" height="2.8" stroke="#171717"/><line x1="350.32" y1="723.91" x2="353.12" y2="723.91" stroke="#171717"/><rect x="351.31" y="722.29" width="2.8" height="2.8" stroke="#181818"/><line x1="351.31" y1="723.69" x2="354.11" y2="723.69" stroke="#181818"/><rect x="352.31" y="722.06" width="2.8" height="2.8" stroke="#191919"/><line x1="352.31" y1="723.46" x2="355.11" y2="723.46" stroke="#191919"/><rect x="353.34" y="721.85" width="2.8" height="2.8" stroke="#1a1a1a"/><line x1="353.34" y1="723.25" x2="356.14" y2="723.25" stroke="#1a1a1a"/><rect x="354.38" y="721.72" width="2.8" height="2.8" stroke="#1b1b1b"/><line x1="354.38" y1="723.12" x2="357.18" y2="723.12" stroke="#1b1b1b"/><rect x="355.45" y="721.60" width="2.8" height="2.8" stroke="#1c1c1c"/><line x1="355.45" y1="723.00" x2="358.25" y2="723.00" stroke="#1c1c1c"/><rect x="356.53" y="721.47" width="2.8" height="2.8" stroke="#1c1c1c"/><line x1="356.53" y1="722.87" x2="359.33" y2="722.87" stroke="#1c1c1c"/><rect x="357.64" y="721.34" width="2.8" height="2.8" stroke="#1d1d1d"/><line x1="357.64" y1="722.74" x2="360.44" y2="722.74" stroke="#1d1d1d"/><rect x="358.77" y="721.20" width="2.8" height="2.8" stroke="#1e1e1e"/><line x1="358.77" y1="722.60" x2="361.57" y2="722.60" stroke="#1e1e1e"/><rect x="359.93" y="721.07" width="2.8" height="2.8" stroke="#1f1f1f"/><line x1="359.93" y1="722.47" x2="362.73" y2="722.47" stroke="#1f1f1f"/><rect x="361.10" y="720.93" width="2.8" height="2.8" stroke="#202020"/><line x1="361.10" y1="722.33" x2="363.90" y2="722.33" stroke="#202020"/><rect x="362.30" y="720.79" width="2.8" height="2.8" stroke="#212121"/><line x1="362.30" y1="722.19" x2="365.10" y2="722.19" stroke="#212121"/><rect x="363.53" y="720.64" width="2.8" height="2.8" stroke="#222222"/><line x1="363.53" y1="722.04" x2="366.33" y2="722.04" stroke="#222222"/><rect x="364.78" y="720.61" width="2.8" height="2.8" stroke="#232323"/><line x1="364.78" y1="722.01" x2="367.58" y2="722.01" stroke="#232323"/><rect x="366.05" y="720.68" width="2.8" height="2.8" stroke="#242424"/><line x1="366.05" y1="722.08" x2="368.85" y2="722.08" stroke="#242424"/><rect x="367.35" y="720.75" width="2.8" height="2.8" stroke="#252525"/><line x1="367.35" y1="722.15" x2="370.15" y2="722.15" stroke="#252525"/><rect x="368.67" y="720.83" width="2.8" height="2.8" stroke="#262626"/><line x1="368.67" y1="722.23" x2="371.47" y2="722.23" stroke="#262626"/><rect x="370.03" y="720.90" width="2.8" height="2.8" stroke="#272727"/><line x1="370.03" y1="722.30" x2="372.83" y2="722.30" stroke="#272727"/><rect x="371.40" y="720.98" width="2.8" height="2.8" stroke="#282828"/><line x1="371.40" y1="722.38" x2="374.20" y2="722.38" stroke="#282828"/><rect x="372.81" y="721.05" width="2.8" height="2.8" stroke="#2a2a2a"/><line x1="372.81" y1="722.45" x2="375.61" y2="722.45" stroke="#2a2a2a"/><rect x="374.24" y="721.13" width="2.8" height="2.8" stroke="#2b2b2b"/><line x1="374.24" y1="722.53" x2="377.04" y2="722.53" stroke="#2b2b2b"/><rect x="375.71" y="721.28" width="2.8" height="2.8" stroke="#2c2c2c"/><line x1="375.71" y1="722.68" x2="378.51" y2="722.68" stroke="#2c2c2c"/><rect x="377.20" y="721.50" width="2.8" height="2.8" stroke="#2d2d2d"/><line x1="377.20" y1="722.90" x2="380.00" y2="722.90" stroke="#2d2d2d"/><rect x="378.72" y="721.72" width="2.8" height="2.8" stroke="#2e2e2e"/><line x1="378.72" y1="723.12" x2="381.52" y2="723.12" stroke="#2e2e2e"/><rect x="380.27" y="721.95" width="2.8" height="2.8" stroke="#303030"/><line x1="380.27" y1="723.35" x2="383.07" y2="723.35" stroke="#303030"/><rect x="381.86" y="722.18" width="2.8" height="2.8" stroke="#313131"/><line x1="381.86" y1="723.58" x2="384.66" y2="723.58" stroke="#313131"/><rect x="383.47" y="722.42" width="2.8" height="2.8" stroke="#323232"/><line x1="383.47" y1="723.82" x2="386.27" y2="723.82" stroke="#323232"/><rect x="385.12" y="722.66" width="2.8" height="2.8" stroke="#343434"/><line x1="385.12" y1="724.06" x2="387.92" y2="724.06" stroke="#343434"/><rect x="386.80" y="722.91" width="2.8" height="2.8" stroke="#353535"/><line x1="386.80" y1="724.31" x2="389.60" y2="724.31" stroke="#353535"/><rect x="388.51" y="723.16" width="2.8" height="2.8" stroke="#363636"/><line x1="388.51" y1="724.56" x2="391.31" y2="724.56" stroke="#363636"/><rect x="390.26" y="723.42" width="2.8" height="2.8" stroke="#383838"/><line x1="390.26" y1="724.82" x2="393.06" y2="724.82" stroke="#383838"/><rect x="392.05" y="723.68" width="2.8" height="2.8" stroke="#393939"/><line x1="392.05" y1="725.08" x2="394.85" y2="725.08" stroke="#393939"/><rect x="393.87" y="723.94" width="2.8" height="2.8" stroke="#3b3b3b"/><line x1="393.87" y1="725.34" x2="396.67" y2="725.34" stroke="#3b3b3b"/><rect x="395.72" y="724.22" width="2.8" height="2.8" stroke="#3c3c3c"/><line x1="395.72" y1="725.62" x2="398.52" y2="725.62" stroke="#3c3c3c"/><rect x="397.61" y="724.42" width="2.8" height="2.8" stroke="#3e3e3e"/><line x1="397.61" y1="725.82" x2="400.41" y2="725.82" stroke="#3e3e3e"/><rect x="399.54" y="724.53" width="2.8" height="2.8" stroke="#3f3f3f"/><line x1="399.54" y1="725.93" x2="402.34" y2="725.93" stroke="#3f3f3f"/><rect x="401.51" y="724.63" width="2.8" height="2.8" stroke="#414141"/><line x1="401.51" y1="726.03" x2="404.31" y2="726.03" stroke="#414141"/><rect x="403.52" y="724.74" width="2.8" height="2.8" stroke="#434343"/><line x1="403.52" y1="726.14" x2="406.32" y2="726.14" stroke="#434343"/><rect x="405.57" y="724.86" width="2.8" height="2.8" stroke="#444444"/><line x1="405.57" y1="726.26" x2="408.37" y2="726.26" stroke="#444444"/><rect x="407.66" y="724.97" width="2.8" height="2.8" stroke="#464646"/><line x1="407.66" y1="726.37" x2="410.46" y2="726.37" stroke="#464646"/><rect x="409.79" y="724.98" width="2.8" height="2.8" stroke="#484848"/><line x1="409.79" y1="726.38" x2="412.59" y2="726.38" stroke="#484848"/><rect x="411.96" y="724.98" width="2.8" height="2.8" stroke="#494949"/><line x1="411.96" y1="726.38" x2="414.76" y2="726.38" stroke="#494949"/><rect x="414.18" y="724.98" width="2.8" height="2.8" stroke="#4b4b4b"/><line x1="414.18" y1="726.38" x2="416.98" y2="726.38" stroke="#4b4b4b"/><rect x="416.44" y="724.98" width="2.8" height="2.8" stroke="#4d4d4d"/><line x1="416.44" y1="726.38" x2="419.24" y2="726.38" stroke="#4d4d4d"/><rect x="418.75" y="724.98" width="2.8" height="2.8" stroke="#4f4f4f"/><line x1="418.75" y1="726.38" x2="421.55" y2="726.38" stroke="#4f4f4f"/><rect x="421.10" y="725.04" width="2.8" height="2.8" stroke="#515151"/><line x1="421.10" y1="726.44" x2="423.90" y2="726.44" stroke="#515151"/><rect x="423.50" y="725.14" width="2.8" height="2.8" stroke="#535353"/><line x1="423.50" y1="726.54" x2="426.30" y2="726.54" stroke="#535353"/><rect x="425.95" y="725.26" width="2.8" height="2.8" stroke="#555555"/><line x1="425.95" y1="726.66" x2="428.75" y2="726.66" stroke="#555555"/><rect x="428.45" y="725.39" width="2.8" height="2.8" stroke="#575757"/><line x1="428.45" y1="726.79" x2="431.25" y2="726.79" stroke="#575757"/><rect x="430.99" y="725.52" width="2.8" height="2.8" stroke="#595959"/><line x1="430.99" y1="726.92" x2="433.79" y2="726.92" stroke="#595959"/><rect x="433.59" y="725.65" width="2.8" height="2.8" stroke="#5a5a5a"/><line x1="433.59" y1="727.05" x2="436.39" y2="727.05" stroke="#5a5a5a"/><rect x="436.24" y="725.78" width="2.8" height="2.8" stroke="#5a5a5a"/><line x1="436.24" y1="727.18" x2="439.04" y2="727.18" stroke="#5a5a5a"/><rect x="438.94" y="725.92" width="2.8" height="2.8" stroke="#5a5a5a"/><line x1="438.94" y1="727.32" x2="441.74" y2="727.32" stroke="#5a5a5a"/><rect x="441.70" y="726.05" width="2.8" height="2.8" stroke="#5a5a5a"/><line x1="441.70" y1="727.45" x2="444.50" y2="727.45" stroke="#5a5a5a"/><rect x="444.51" y="726.22" width="2.8" height="2.8" stroke="#5a5a5a"/><line x1="444.51" y1="727.62" x2="447.31" y2="727.62" stroke="#5a5a5a"/><rect x="447.38" y="726.51" width="2.8" height="2.8" stroke="#5a5a5a"/><line x1="447.38" y1="727.91" x2="450.18" y2="727.91" stroke="#5a5a5a"/><rect x="450.31" y="726.80" width="2.8" height="2.8" stroke="#5a5a5a"/><line x1="450.31" y1="728.20" x2="453.11" y2="728.20" stroke="#5a5a5a"/><rect x="453.29" y="727.10" width="2.8" height="2.8" stroke="#5a5a5a"/><line x1="453.29" y1="728.50" x2="456.09" y2="728.50" stroke="#5a5a5a"/><rect x="456.34" y="727.53" width="2.8" height="2.8" stroke="#5a5a5a"/><line x1="456.34" y1="728.93" x2="459.14" y2="728.93" stroke="#5a5a5a"/><rect x="459.44" y="728.13" width="2.8" height="2.8" stroke="#5a5a5a"/><line x1="459.44" y1="729.53" x2="462.24" y2="729.53" stroke="#5a5a5a"/><rect x="462.61" y="728.74" width="2.8" height="2.8" stroke="#5a5a5a"/><line x1="462.61" y1="730.14" x2="465.41" y2="730.14" stroke="#5a5a5a"/><rect x="465.84" y="729.36" width="2.8" height="2.8" stroke="#5a5a5a"/><line x1="465.84" y1="730.76" x2="468.64" y2="730.76" stroke="#5a5a5a"/><rect x="469.13" y="730.03" width="2.8" height="2.8" stroke="#5a5a5a"/><line x1="469.13" y1="731.43" x2="471.93" y2="731.43" stroke="#5a5a5a"/><rect x="472.49" y="730.71" width="2.8" height="2.8" stroke="#5a5a5a"/><line x1="472.49" y1="732.11" x2="475.29" y2="732.11" stroke="#5a5a5a"/><rect x="475.92" y="731.40" width="2.8" height="2.8" stroke="#5a5a5a"/><line x1="475.92" y1="732.80" x2="478.72" y2="732.80" stroke="#5a5a5a"/><rect x="479.42" y="731.89" width="2.8" height="2.8" stroke="#5a5a5a"/><line x1="479.42" y1="733.29" x2="482.22" y2="733.29" stroke="#5a5a5a"/><rect x="482.98" y="732.32" width="2.8" height="2.8" stroke="#5a5a5a"/><line x1="482.98" y1="733.72" x2="485.78" y2="733.72" stroke="#5a5a5a"/><rect x="486.62" y="732.76" width="2.8" height="2.8" stroke="#5a5a5a"/><line x1="486.62" y1="734.16" x2="489.42" y2="734.16" stroke="#5a5a5a"/><rect x="490.33" y="733.16" width="2.8" height="2.8" stroke="#5a5a5a"/><line x1="490.33" y1="734.56" x2="493.13" y2="734.56" stroke="#5a5a5a"/><rect x="494.12" y="732.98" width="2.8" height="2.8" stroke="#5a5a5a"/><line x1="494.12" y1="734.38" x2="496.92" y2="734.38" stroke="#5a5a5a"/><rect x="497.98" y="732.79" width="2.8" height="2.8" stroke="#5a5a5a"/><line x1="497.98" y1="734.19" x2="500.78" y2="734.19" stroke="#5a5a5a"/><rect x="501.91" y="732.36" width="2.8" height="2.8" stroke="#5a5a5a"/><line x1="501.91" y1="733.76" x2="504.71" y2="733.76" stroke="#5a5a5a"/><rect x="505.93" y="731.90" width="2.8" height="2.8" stroke="#5a5a5a"/><line x1="505.93" y1="733.30" x2="508.73" y2="733.30" stroke="#5a5a5a"/><rect x="510.03" y="731.42" width="2.8" height="2.8" stroke="#5a5a5a"/><line x1="510.03" y1="732.82" x2="512.83" y2="732.82" stroke="#5a5a5a"/><rect x="514.20" y="730.67" width="2.8" height="2.8" stroke="#5a5a5a"/><line x1="514.20" y1="732.07" x2="517.00" y2="732.07" stroke="#5a5a5a"/><rect x="518.47" y="729.92" width="2.8" height="2.8" stroke="#5a5a5a"/><line x1="518.47" y1="731.32" x2="521.27" y2="731.32" stroke="#5a5a5a"/><rect x="522.81" y="728.96" width="2.8" height="2.8" stroke="#5a5a5a"/><line x1="522.81" y1="730.36" x2="525.61" y2="730.36" stroke="#5a5a5a"/><rect x="527.25" y="727.98" width="2.8" height="2.8" stroke="#5a5a5a"/><line x1="527.25" y1="729.38" x2="530.05" y2="729.38" stroke="#5a5a5a"/><rect x="531.77" y="726.92" width="2.8" height="2.8" stroke="#5a5a5a"/><line x1="531.77" y1="728.32" x2="534.57" y2="728.32" stroke="#5a5a5a"/><rect x="536.38" y="725.85" width="2.8" height="2.8" stroke="#5a5a5a"/><line x1="536.38" y1="727.25" x2="539.18" y2="727.25" stroke="#5a5a5a"/><rect x="541.09" y="725.14" width="2.8" height="2.8" stroke="#5a5a5a"/><line x1="541.09" y1="726.54" x2="543.89" y2="726.54" stroke="#5a5a5a"/><rect x="545.89" y="724.45" width="2.8" height="2.8" stroke="#5a5a5a"/><line x1="545.89" y1="725.85" x2="548.69" y2="725.85" stroke="#5a5a5a"/><rect x="550.79" y="723.85" width="2.8" height="2.8" stroke="#5a5a5a"/><line x1="550.79" y1="725.25" x2="553.59" y2="725.25" stroke="#5a5a5a"/><rect x="555.78" y="723.26" width="2.8" height="2.8" stroke="#5a5a5a"/><line x1="555.78" y1="724.66" x2="558.58" y2="724.66" stroke="#5a5a5a"/><rect x="560.87" y="723.07" width="2.8" height="2.8" stroke="#5a5a5a"/><line x1="560.87" y1="724.47" x2="563.67" y2="724.47" stroke="#5a5a5a"/><rect x="566.07" y="722.88" width="2.8" height="2.8" stroke="#5a5a5a"/><line x1="566.07" y1="724.28" x2="568.87" y2="724.28" stroke="#5a5a5a"/><rect x="571.37" y="722.29" width="2.8" height="2.8" stroke="#5a5a5a"/><line x1="571.37" y1="723.69" x2="574.17" y2="723.69" stroke="#5a5a5a"/><rect x="576.77" y="721.68" width="2.8" height="2.8" stroke="#5a5a5a"/><line x1="576.77" y1="723.08" x2="579.57" y2="723.08" stroke="#5a5a5a"/><rect x="582.29" y="721.26" width="2.8" height="2.8" stroke="#5a5a5a"/><line x1="582.29" y1="722.66" x2="585.09" y2="722.66" stroke="#5a5a5a"/><rect x="587.91" y="720.88" width="2.8" height="2.8" stroke="#5a5a5a"/><line x1="587.91" y1="722.27" x2="590.71" y2="722.27" stroke="#5a5a5a"/><rect x="593.65" y="720.88" width="2.8" height="2.8" stroke="#5a5a5a"/><line x1="593.65" y1="722.27" x2="596.45" y2="722.27" stroke="#5a5a5a"/><rect x="599.50" y="720.88" width="2.8" height="2.8" stroke="#5a5a5a"/><line x1="599.50" y1="722.28" x2="602.30" y2="722.28" stroke="#5a5a5a"/><rect x="605.47" y="721.18" width="2.8" height="2.8" stroke="#5a5a5a"/><line x1="605.47" y1="722.58" x2="608.27" y2="722.58" stroke="#5a5a5a"/><rect x="611.55" y="722.08" width="2.8" height="2.8" stroke="#5a5a5a"/><line x1="611.55" y1="723.48" x2="614.35" y2="723.48" stroke="#5a5a5a"/><rect x="617.76" y="723.19" width="2.8" height="2.8" stroke="#5a5a5a"/><line x1="617.76" y1="724.59" x2="620.56" y2="724.59" stroke="#5a5a5a"/><rect x="624.10" y="724.34" width="2.8" height="2.8" stroke="#5a5a5a"/><line x1="624.10" y1="725.74" x2="626.90" y2="725.74" stroke="#5a5a5a"/><rect x="630.56" y="725.59" width="2.8" height="2.8" stroke="#5a5a5a"/><line x1="630.56" y1="726.99" x2="633.36" y2="726.99" stroke="#5a5a5a"/><rect x="637.14" y="726.81" width="2.8" height="2.8" stroke="#5a5a5a"/><line x1="637.14" y1="728.21" x2="639.94" y2="728.21" stroke="#5a5a5a"/><rect x="643.87" y="728.22" width="2.8" height="2.8" stroke="#5a5a5a"/><line x1="643.87" y1="729.62" x2="646.67" y2="729.62" stroke="#5a5a5a"/><rect x="650.72" y="730.07" width="2.8" height="2.8" stroke="#5a5a5a"/><line x1="650.72" y1="731.47" x2="653.52" y2="731.47" stroke="#5a5a5a"/><rect x="657.71" y="732.11" width="2.8" height="2.8" stroke="#5a5a5a"/><line x1="657.71" y1="733.51" x2="660.51" y2="733.51" stroke="#5a5a5a"/><rect x="664.85" y="734.35" width="2.8" height="2.8" stroke="#5a5a5a"/><line x1="664.85" y1="735.75" x2="667.65" y2="735.75" stroke="#5a5a5a"/><rect x="672.12" y="736.62" width="2.8" height="2.8" stroke="#5a5a5a"/><line x1="672.12" y1="738.02" x2="674.92" y2="738.02" stroke="#5a5a5a"/><rect x="679.54" y="738.83" width="2.8" height="2.8" stroke="#5a5a5a"/><line x1="679.54" y1="740.23" x2="682.34" y2="740.23" stroke="#5a5a5a"/><rect x="687.11" y="740.63" width="2.8" height="2.8" stroke="#5a5a5a"/><line x1="687.11" y1="742.03" x2="689.91" y2="742.03" stroke="#5a5a5a"/><rect x="694.83" y="742.51" width="2.8" height="2.8" stroke="#5a5a5a"/><line x1="694.83" y1="743.91" x2="697.63" y2="743.91" stroke="#5a5a5a"/><rect x="702.70" y="744.30" width="2.8" height="2.8" stroke="#5a5a5a"/><line x1="702.70" y1="745.70" x2="705.50" y2="745.70" stroke="#5a5a5a"/><rect x="710.74" y="746.12" width="2.8" height="2.8" stroke="#5a5a5a"/><line x1="710.74" y1="747.52" x2="713.54" y2="747.52" stroke="#5a5a5a"/><rect x="718.93" y="747.76" width="2.8" height="2.8" stroke="#5a5a5a"/><line x1="718.93" y1="749.16" x2="721.73" y2="749.16" stroke="#5a5a5a"/><rect x="727.29" y="750.31" width="2.8" height="2.8" stroke="#5a5a5a"/><line x1="727.29" y1="751.71" x2="730.09" y2="751.71" stroke="#5a5a5a"/><rect x="735.81" y="753.48" width="2.8" height="2.8" stroke="#5a5a5a"/><line x1="735.81" y1="754.88" x2="738.61" y2="754.88" stroke="#5a5a5a"/><rect x="744.50" y="755.24" width="2.8" height="2.8" stroke="#5a5a5a"/><line x1="744.50" y1="756.64" x2="747.30" y2="756.64" stroke="#5a5a5a"/><rect x="753.37" y="758.40" width="2.8" height="2.8" stroke="#5a5a5a"/><line x1="753.37" y1="759.80" x2="756.17" y2="759.80" stroke="#5a5a5a"/><rect x="762.42" y="761.38" width="2.8" height="2.8" stroke="#5a5a5a"/><line x1="762.42" y1="762.77" x2="765.22" y2="762.77" stroke="#5a5a5a"/><rect x="771.64" y="774.38" width="2.8" height="2.8" stroke="#5a5a5a"/><line x1="771.64" y1="775.77" x2="774.44" y2="775.77" stroke="#5a5a5a"/><rect x="781.05" y="768.38" width="2.8" height="2.8" stroke="#5a5a5a"/><line x1="781.05" y1="769.77" x2="783.85" y2="769.77" stroke="#5a5a5a"/><rect x="790.65" y="771.98" width="2.8" height="2.8" stroke="#5a5a5a"/><line x1="790.65" y1="773.38" x2="793.45" y2="773.38" stroke="#5a5a5a"/><rect x="800.44" y="774.77" width="2.8" height="2.8" stroke="#5a5a5a"/><line x1="800.44" y1="776.17" x2="803.24" y2="776.17" stroke="#5a5a5a"/><rect x="810.43" y="776.17" width="2.8" height="2.8" stroke="#5a5a5a"/><line x1="810.43" y1="777.57" x2="813.23" y2="777.57" stroke="#5a5a5a"/><rect x="820.62" y="777.48" width="2.8" height="2.8" stroke="#5a5a5a"/><line x1="820.62" y1="778.88" x2="823.42" y2="778.88" stroke="#5a5a5a"/><rect x="831.01" y="793.65" width="2.8" height="2.8" stroke="#5a5a5a"/><line x1="831.01" y1="795.05" x2="833.81" y2="795.05" stroke="#5a5a5a"/><rect x="841.61" y="793.65" width="2.8" height="2.8" stroke="#5a5a5a"/><line x1="841.61" y1="795.05" x2="844.41" y2="795.05" stroke="#5a5a5a"/><rect x="852.42" y="793.65" width="2.8" height="2.8" stroke="#5a5a5a"/><line x1="852.42" y1="795.05" x2="855.22" y2="795.05" stroke="#5a5a5a"/><rect x="863.44" y="793.65" width="2.8" height="2.8" stroke="#5a5a5a"/><line x1="863.44" y1="795.05" x2="866.24" y2="795.05" stroke="#5a5a5a"/><rect x="874.69" y="793.65" width="2.8" height="2.8" stroke="#5a5a5a"/><line x1="874.69" y1="795.05" x2="877.49" y2="795.05" stroke="#5a5a5a"/><rect x="886.16" y="793.65" width="2.8" height="2.8" stroke="#5a5a5a"/><line x1="886.16" y1="795.05" x2="888.96" y2="795.05" stroke="#5a5a5a"/><rect x="897.86" y="793.65" width="2.8" height="2.8" stroke="#5a5a5a"/><line x1="897.86" y1="795.05" x2="900.66" y2="795.05" stroke="#5a5a5a"/><rect x="909.80" y="793.65" width="2.8" height="2.8" stroke="#5a5a5a"/><line x1="909.80" y1="795.05" x2="912.60" y2="795.05" stroke="#5a5a5a"/><rect x="921.97" y="793.65" width="2.8" height="2.8" stroke="#5a5a5a"/><line x1="921.97" y1="795.05" x2="924.77" y2="795.05" stroke="#5a5a5a"/><rect x="934.39" y="793.65" width="2.8" height="2.8" stroke="#5a5a5a"/><line x1="934.39" y1="795.05" x2="937.19" y2="795.05" stroke="#5a5a5a"/><rect x="947.06" y="793.65" width="2.8" height="2.8" stroke="#5a5a5a"/><line x1="947.06" y1="795.05" x2="949.86" y2="795.05" stroke="#5a5a5a"/><rect x="959.98" y="793.65" width="2.8" height="2.8" stroke="#5a5a5a"/><line x1="959.98" y1="795.05" x2="962.77" y2="795.05" stroke="#5a5a5a"/><rect x="973.15" y="793.65" width="2.8" height="2.8" stroke="#5a5a5a"/><line x1="973.15" y1="795.05" x2="975.95" y2="795.05" stroke="#5a5a5a"/></g>
<line x1="773.04" y1="771.57" x2="773.04" y2="779.10" stroke="#666" stroke-width="0.8" clip-path="url(#cr)"/>
<rect x="745.5" y="212.5" width="266.0" height="212.0" fill="#fff"/>
<line x1="745.50" y1="424.50" x2="745.50" y2="420.30" stroke="#808080" stroke-width="1"/>
<line x1="745.50" y1="212.50" x2="745.50" y2="216.70" stroke="#808080" stroke-width="1"/>
<line x1="785.50" y1="424.50" x2="785.50" y2="422.40" stroke="#808080" stroke-width="1"/>
<line x1="785.50" y1="212.50" x2="785.50" y2="214.60" stroke="#808080" stroke-width="1"/>
<line x1="808.50" y1="424.50" x2="808.50" y2="422.40" stroke="#808080" stroke-width="1"/>
<line x1="808.50" y1="212.50" x2="808.50" y2="214.60" stroke="#808080" stroke-width="1"/>
<line x1="825.50" y1="424.50" x2="825.50" y2="422.40" stroke="#808080" stroke-width="1"/>
<line x1="825.50" y1="212.50" x2="825.50" y2="214.60" stroke="#808080" stroke-width="1"/>
<line x1="838.50" y1="424.50" x2="838.50" y2="422.40" stroke="#808080" stroke-width="1"/>
<line x1="838.50" y1="212.50" x2="838.50" y2="214.60" stroke="#808080" stroke-width="1"/>
<line x1="848.50" y1="424.50" x2="848.50" y2="422.40" stroke="#808080" stroke-width="1"/>
<line x1="848.50" y1="212.50" x2="848.50" y2="214.60" stroke="#808080" stroke-width="1"/>
<line x1="857.50" y1="424.50" x2="857.50" y2="422.40" stroke="#808080" stroke-width="1"/>
<line x1="857.50" y1="212.50" x2="857.50" y2="214.60" stroke="#808080" stroke-width="1"/>
<line x1="865.50" y1="424.50" x2="865.50" y2="422.40" stroke="#808080" stroke-width="1"/>
<line x1="865.50" y1="212.50" x2="865.50" y2="214.60" stroke="#808080" stroke-width="1"/>
<line x1="872.50" y1="424.50" x2="872.50" y2="422.40" stroke="#808080" stroke-width="1"/>
<line x1="872.50" y1="212.50" x2="872.50" y2="214.60" stroke="#808080" stroke-width="1"/>
<line x1="878.50" y1="424.50" x2="878.50" y2="420.30" stroke="#808080" stroke-width="1"/>
<line x1="878.50" y1="212.50" x2="878.50" y2="216.70" stroke="#808080" stroke-width="1"/>
<line x1="918.50" y1="424.50" x2="918.50" y2="422.40" stroke="#808080" stroke-width="1"/>
<line x1="918.50" y1="212.50" x2="918.50" y2="214.60" stroke="#808080" stroke-width="1"/>
<line x1="941.50" y1="424.50" x2="941.50" y2="422.40" stroke="#808080" stroke-width="1"/>
<line x1="941.50" y1="212.50" x2="941.50" y2="214.60" stroke="#808080" stroke-width="1"/>
<line x1="958.50" y1="424.50" x2="958.50" y2="422.40" stroke="#808080" stroke-width="1"/>
<line x1="958.50" y1="212.50" x2="958.50" y2="214.60" stroke="#808080" stroke-width="1"/>
<line x1="971.50" y1="424.50" x2="971.50" y2="422.40" stroke="#808080" stroke-width="1"/>
<line x1="971.50" y1="212.50" x2="971.50" y2="214.60" stroke="#808080" stroke-width="1"/>
<line x1="981.50" y1="424.50" x2="981.50" y2="422.40" stroke="#808080" stroke-width="1"/>
<line x1="981.50" y1="212.50" x2="981.50" y2="214.60" stroke="#808080" stroke-width="1"/>
<line x1="990.50" y1="424.50" x2="990.50" y2="422.40" stroke="#808080" stroke-width="1"/>
<line x1="990.50" y1="212.50" x2="990.50" y2="214.60" stroke="#808080" stroke-width="1"/>
<line x1="998.50" y1="424.50" x2="998.50" y2="422.40" stroke="#808080" stroke-width="1"/>
<line x1="998.50" y1="212.50" x2="998.50" y2="214.60" stroke="#808080" stroke-width="1"/>
<line x1="1005.50" y1="424.50" x2="1005.50" y2="422.40" stroke="#808080" stroke-width="1"/>
<line x1="1005.50" y1="212.50" x2="1005.50" y2="214.60" stroke="#808080" stroke-width="1"/>
<line x1="745.50" y1="212.50" x2="750.80" y2="212.50" stroke="#808080" stroke-width="1"/>
<line x1="1011.50" y1="212.50" x2="1006.20" y2="212.50" stroke="#808080" stroke-width="1"/>
<line x1="745.50" y1="220.50" x2="748.15" y2="220.50" stroke="#808080" stroke-width="1"/>
<line x1="1011.50" y1="220.50" x2="1008.85" y2="220.50" stroke="#808080" stroke-width="1"/>
<line x1="745.50" y1="227.50" x2="748.15" y2="227.50" stroke="#808080" stroke-width="1"/>
<line x1="1011.50" y1="227.50" x2="1008.85" y2="227.50" stroke="#808080" stroke-width="1"/>
<line x1="745.50" y1="235.50" x2="748.15" y2="235.50" stroke="#808080" stroke-width="1"/>
<line x1="1011.50" y1="235.50" x2="1008.85" y2="235.50" stroke="#808080" stroke-width="1"/>
<line x1="745.50" y1="242.50" x2="750.80" y2="242.50" stroke="#808080" stroke-width="1"/>
<line x1="1011.50" y1="242.50" x2="1006.20" y2="242.50" stroke="#808080" stroke-width="1"/>
<line x1="745.50" y1="250.50" x2="748.15" y2="250.50" stroke="#808080" stroke-width="1"/>
<line x1="1011.50" y1="250.50" x2="1008.85" y2="250.50" stroke="#808080" stroke-width="1"/>
<line x1="745.50" y1="257.50" x2="748.15" y2="257.50" stroke="#808080" stroke-width="1"/>
<line x1="1011.50" y1="257.50" x2="1008.85" y2="257.50" stroke="#808080" stroke-width="1"/>
<line x1="745.50" y1="265.50" x2="748.15" y2="265.50" stroke="#808080" stroke-width="1"/>
<line x1="1011.50" y1="265.50" x2="1008.85" y2="265.50" stroke="#808080" stroke-width="1"/>
<line x1="745.50" y1="273.50" x2="750.80" y2="273.50" stroke="#808080" stroke-width="1"/>
<line x1="1011.50" y1="273.50" x2="1006.20" y2="273.50" stroke="#808080" stroke-width="1"/>
<line x1="745.50" y1="280.50" x2="748.15" y2="280.50" stroke="#808080" stroke-width="1"/>
<line x1="1011.50" y1="280.50" x2="1008.85" y2="280.50" stroke="#808080" stroke-width="1"/>
<line x1="745.50" y1="288.50" x2="748.15" y2="288.50" stroke="#808080" stroke-width="1"/>
<line x1="1011.50" y1="288.50" x2="1008.85" y2="288.50" stroke="#808080" stroke-width="1"/>
<line x1="745.50" y1="295.50" x2="748.15" y2="295.50" stroke="#808080" stroke-width="1"/>
<line x1="1011.50" y1="295.50" x2="1008.85" y2="295.50" stroke="#808080" stroke-width="1"/>
<line x1="745.50" y1="303.50" x2="750.80" y2="303.50" stroke="#808080" stroke-width="1"/>
<line x1="1011.50" y1="303.50" x2="1006.20" y2="303.50" stroke="#808080" stroke-width="1"/>
<line x1="745.50" y1="310.50" x2="748.15" y2="310.50" stroke="#808080" stroke-width="1"/>
<line x1="1011.50" y1="310.50" x2="1008.85" y2="310.50" stroke="#808080" stroke-width="1"/>
<line x1="745.50" y1="318.50" x2="748.15" y2="318.50" stroke="#808080" stroke-width="1"/>
<line x1="1011.50" y1="318.50" x2="1008.85" y2="318.50" stroke="#808080" stroke-width="1"/>
<line x1="745.50" y1="326.50" x2="748.15" y2="326.50" stroke="#808080" stroke-width="1"/>
<line x1="1011.50" y1="326.50" x2="1008.85" y2="326.50" stroke="#808080" stroke-width="1"/>
<line x1="745.50" y1="333.50" x2="750.80" y2="333.50" stroke="#808080" stroke-width="1"/>
<line x1="1011.50" y1="333.50" x2="1006.20" y2="333.50" stroke="#808080" stroke-width="1"/>
<line x1="745.50" y1="341.50" x2="748.15" y2="341.50" stroke="#808080" stroke-width="1"/>
<line x1="1011.50" y1="341.50" x2="1008.85" y2="341.50" stroke="#808080" stroke-width="1"/>
<line x1="745.50" y1="348.50" x2="748.15" y2="348.50" stroke="#808080" stroke-width="1"/>
<line x1="1011.50" y1="348.50" x2="1008.85" y2="348.50" stroke="#808080" stroke-width="1"/>
<line x1="745.50" y1="356.50" x2="748.15" y2="356.50" stroke="#808080" stroke-width="1"/>
<line x1="1011.50" y1="356.50" x2="1008.85" y2="356.50" stroke="#808080" stroke-width="1"/>
<line x1="745.50" y1="363.50" x2="750.80" y2="363.50" stroke="#808080" stroke-width="1"/>
<line x1="1011.50" y1="363.50" x2="1006.20" y2="363.50" stroke="#808080" stroke-width="1"/>
<line x1="745.50" y1="371.50" x2="748.15" y2="371.50" stroke="#808080" stroke-width="1"/>
<line x1="1011.50" y1="371.50" x2="1008.85" y2="371.50" stroke="#808080" stroke-width="1"/>
<line x1="745.50" y1="379.50" x2="748.15" y2="379.50" stroke="#808080" stroke-width="1"/>
<line x1="1011.50" y1="379.50" x2="1008.85" y2="379.50" stroke="#808080" stroke-width="1"/>
<line x1="745.50" y1="386.50" x2="748.15" y2="386.50" stroke="#808080" stroke-width="1"/>
<line x1="1011.50" y1="386.50" x2="1008.85" y2="386.50" stroke="#808080" stroke-width="1"/>
<line x1="745.50" y1="394.50" x2="750.80" y2="394.50" stroke="#808080" stroke-width="1"/>
<line x1="1011.50" y1="394.50" x2="1006.20" y2="394.50" stroke="#808080" stroke-width="1"/>
<line x1="745.50" y1="401.50" x2="748.15" y2="401.50" stroke="#808080" stroke-width="1"/>
<line x1="1011.50" y1="401.50" x2="1008.85" y2="401.50" stroke="#808080" stroke-width="1"/>
<line x1="745.50" y1="409.50" x2="748.15" y2="409.50" stroke="#808080" stroke-width="1"/>
<line x1="1011.50" y1="409.50" x2="1008.85" y2="409.50" stroke="#808080" stroke-width="1"/>
<line x1="745.50" y1="416.50" x2="748.15" y2="416.50" stroke="#808080" stroke-width="1"/>
<line x1="1011.50" y1="416.50" x2="1008.85" y2="416.50" stroke="#808080" stroke-width="1"/>
<line x1="745.50" y1="424.50" x2="750.80" y2="424.50" stroke="#808080" stroke-width="1"/>
<line x1="1011.50" y1="424.50" x2="1006.20" y2="424.50" stroke="#808080" stroke-width="1"/>
<rect x="745.5" y="212.5" width="266.0" height="212.0" fill="none" stroke="#8a8a8a" stroke-width="1"/>
<text x="722.54" y="222.10" font-size="16.6" fill="#000"> 4</text>
<path d="M515,0 L515,1015 L170,1065 L170,1180 Q400,1225 515,1409 L696,1409 L696,0 Z" fill="#000" transform="translate(722.54 222.10) scale(0.008105 -0.008105)"/>
<text x="722.54" y="248.39" font-size="16.6" fill="#000"> 6</text>
<path d="M515,0 L515,1015 L170,1065 L170,1180 Q400,1225 515,1409 L696,1409 L696,0 Z" fill="#000" transform="translate(722.54 248.39) scale(0.008105 -0.008105)"/>
<text x="722.54" y="278.67" font-size="16.6" fill="#000"> 8</text>
<path d="M515,0 L515,1015 L170,1065 L170,1180 Q400,1225 515,1409 L696,1409 L696,0 Z" fill="#000" transform="translate(722.54 278.67) scale(0.008105 -0.008105)"/>
<text x="722.54" y="308.96" font-size="16.6" fill="#000">20</text>
<text x="722.54" y="339.24" font-size="16.6" fill="#000">22</text>
<text x="722.54" y="369.53" font-size="16.6" fill="#000">24</text>
<text x="722.54" y="399.81" font-size="16.6" fill="#000">26</text>
<text x="722.54" y="425.10" font-size="16.6" fill="#000">28</text>
<text x="740.88" y="445.20" font-size="16.6" fill="#000"> </text>
<path d="M515,0 L515,1015 L170,1065 L170,1180 Q400,1225 515,1409 L696,1409 L696,0 Z" fill="#000" transform="translate(740.88 445.20) scale(0.008105 -0.008105)"/>
<text x="869.27" y="445.20" font-size="16.6" fill="#000"> 0</text>
<path d="M515,0 L515,1015 L170,1065 L170,1180 Q400,1225 515,1409 L696,1409 L696,0 Z" fill="#000" transform="translate(869.27 445.20) scale(0.008105 -0.008105)"/>
<text x="997.65" y="445.20" font-size="16.6" fill="#000"> 00</text>
<path d="M515,0 L515,1015 L170,1065 L170,1180 Q400,1225 515,1409 L696,1409 L696,0 Z" fill="#000" transform="translate(997.65 445.20) scale(0.008105 -0.008105)"/>
<text x="878.50" y="462.80" font-size="16.6" text-anchor="middle" fill="#000">sma (pix)</text>
<polyline clip-path="url(#ci)" points="751.84,277.51 752.98,277.51 754.13,277.54 755.27,277.57 756.41,277.60 757.56,277.64 758.70,277.67 759.85,277.70 760.99,277.74 762.13,277.77 763.28,277.81 764.42,277.85 765.56,277.89 766.71,277.92 767.85,277.96 769.00,278.00 770.14,278.04 771.28,278.08 772.43,278.13 773.57,278.17 774.72,278.21 775.86,278.26 777.00,278.31 778.15,278.35 779.29,278.40 780.43,278.45 781.58,278.50 782.72,278.55 783.87,278.60 785.01,278.65 786.15,278.71 787.30,278.76 788.44,278.82 789.59,278.87 790.73,278.93 791.87,278.99 793.02,279.05 794.16,279.11 795.30,279.18 796.45,279.24 797.59,279.31 798.74,279.37 799.88,279.44 801.02,279.51 802.17,279.58 803.31,279.65 804.45,279.73 805.60,279.80 806.74,279.88 807.89,279.96 809.03,280.05 810.17,280.13 811.32,280.22 812.46,280.31 813.61,280.41 814.75,280.50 815.89,280.60 817.04,280.70 818.18,280.80 819.32,280.90 820.47,281.00 821.61,281.11 822.76,281.22 823.90,281.33 825.04,281.44 826.19,281.56 827.33,281.68 828.48,281.80 829.62,281.92 830.76,282.04 831.91,282.17 833.05,282.30 834.19,282.43 835.34,282.57 836.48,282.71 837.63,282.84 838.77,282.97 839.91,283.11 841.06,283.24 842.20,283.38 843.34,283.53 844.49,283.67 845.63,283.82 846.78,283.97 847.92,284.13 849.06,284.29 850.21,284.45 851.35,284.61 852.50,284.78 853.64,284.95 854.78,285.13 855.93,285.30 857.07,285.46 858.21,285.62 859.36,285.78 860.50,285.95 861.65,286.11 862.79,286.29 863.93,286.46 865.08,286.64 866.22,286.82 867.37,287.00 868.51,287.19 869.65,287.38 870.80,287.57 871.94,287.74 873.08,287.90 874.23,288.07 875.37,288.25 876.52,288.42 877.66,288.60 878.80,288.79 879.95,288.97 881.09,289.16 882.23,289.37 883.38,289.61 884.52,289.87 885.67,290.12 886.81,290.39 887.95,290.66 889.10,290.93 890.24,291.21 891.39,291.49 892.53,291.85 893.67,292.23 894.82,292.61 895.96,293.00 897.10,293.40 898.25,293.81 899.39,294.22 900.54,294.52 901.68,294.79 902.82,295.07 903.97,295.36 905.11,295.65 906.26,295.94 907.40,296.26 908.54,296.61 909.69,296.96 910.83,297.32 911.97,297.69 913.12,298.07 914.26,298.54 915.41,299.04 916.55,299.54 917.69,300.06 918.84,300.59 919.98,301.20 921.12,301.84 922.27,302.50 923.41,303.17 924.56,303.86 925.70,304.60 926.84,305.36 927.99,306.13 929.13,306.92 930.28,307.72 931.42,309.09 932.56,310.49 933.71,311.91 934.85,313.39 935.99,314.99 937.14,316.62 938.28,318.29 939.43,319.76 940.57,321.12 941.71,322.51 942.86,323.94 944.00,325.45 945.15,326.99 946.29,328.50 947.43,329.71 948.58,331.18 949.72,332.80 950.86,334.47 952.01,336.65 953.15,338.65 954.30,340.31 955.44,341.76 956.58,343.21 957.73,344.81 958.87,346.80 960.01,348.97 961.16,351.18 962.30,352.83 963.45,354.48 964.59,356.28 965.73,358.60 966.88,360.96 968.02,362.61 969.17,364.28 970.31,365.96 971.45,379.20 972.60,368.86 973.74,369.87 974.88,371.76 976.03,375.15 977.17,378.49 978.32,383.11 979.46,385.71 980.60,388.87 981.75,391.95 982.89,394.06 984.04,396.92 985.18,398.95 986.32,401.06 987.47,402.95 988.61,410.16 989.75,413.50 990.90,415.66 992.04,415.44" fill="none" stroke="#3e3030" stroke-width="0.85"/>
<g clip-path="url(#ci)" fill="none" stroke="#a6a6a6" stroke-width="1"><rect x="749.94" y="271.12" width="3.8" height="3.8"/><rect x="751.08" y="271.13" width="3.8" height="3.8"/><rect x="752.23" y="271.13" width="3.8" height="3.8"/><rect x="753.37" y="271.14" width="3.8" height="3.8"/><rect x="754.51" y="271.14" width="3.8" height="3.8"/><rect x="755.66" y="271.15" width="3.8" height="3.8"/><rect x="756.80" y="271.15" width="3.8" height="3.8"/><rect x="757.95" y="271.16" width="3.8" height="3.8"/><rect x="759.09" y="271.16" width="3.8" height="3.8"/><rect x="760.23" y="271.18" width="3.8" height="3.8"/><rect x="761.38" y="271.27" width="3.8" height="3.8"/><rect x="762.52" y="271.36" width="3.8" height="3.8"/><rect x="763.66" y="271.46" width="3.8" height="3.8"/><rect x="764.81" y="271.55" width="3.8" height="3.8"/><rect x="765.95" y="271.65" width="3.8" height="3.8"/><rect x="767.10" y="271.74" width="3.8" height="3.8"/><rect x="768.24" y="271.84" width="3.8" height="3.8"/><rect x="769.38" y="271.95" width="3.8" height="3.8"/><rect x="770.53" y="272.05" width="3.8" height="3.8"/><rect x="771.67" y="272.16" width="3.8" height="3.8"/><rect x="772.82" y="272.26" width="3.8" height="3.8"/><rect x="773.96" y="272.37" width="3.8" height="3.8"/><rect x="775.10" y="272.49" width="3.8" height="3.8"/><rect x="776.25" y="272.60" width="3.8" height="3.8"/><rect x="777.39" y="272.72" width="3.8" height="3.8"/><rect x="778.53" y="272.84" width="3.8" height="3.8"/><rect x="779.68" y="272.96" width="3.8" height="3.8"/><rect x="780.82" y="273.08" width="3.8" height="3.8"/><rect x="781.97" y="273.21" width="3.8" height="3.8"/><rect x="783.11" y="273.34" width="3.8" height="3.8"/><rect x="784.25" y="273.47" width="3.8" height="3.8"/><rect x="785.40" y="273.59" width="3.8" height="3.8"/><rect x="786.54" y="273.72" width="3.8" height="3.8"/><rect x="787.69" y="273.84" width="3.8" height="3.8"/><rect x="788.83" y="273.97" width="3.8" height="3.8"/><rect x="789.97" y="274.10" width="3.8" height="3.8"/><rect x="791.12" y="274.23" width="3.8" height="3.8"/><rect x="792.26" y="274.37" width="3.8" height="3.8"/><rect x="793.40" y="274.50" width="3.8" height="3.8"/><rect x="794.55" y="274.64" width="3.8" height="3.8"/><rect x="795.69" y="274.79" width="3.8" height="3.8"/><rect x="796.84" y="274.93" width="3.8" height="3.8"/><rect x="797.98" y="275.09" width="3.8" height="3.8"/><rect x="799.12" y="275.24" width="3.8" height="3.8"/><rect x="800.27" y="275.40" width="3.8" height="3.8"/><rect x="801.41" y="275.56" width="3.8" height="3.8"/><rect x="802.55" y="275.73" width="3.8" height="3.8"/><rect x="803.70" y="275.90" width="3.8" height="3.8"/><rect x="804.84" y="276.07" width="3.8" height="3.8"/><rect x="805.99" y="276.24" width="3.8" height="3.8"/><rect x="807.13" y="276.42" width="3.8" height="3.8"/><rect x="808.27" y="276.61" width="3.8" height="3.8"/><rect x="809.42" y="276.79" width="3.8" height="3.8"/><rect x="810.56" y="276.99" width="3.8" height="3.8"/><rect x="811.71" y="277.18" width="3.8" height="3.8"/><rect x="812.85" y="277.38" width="3.8" height="3.8"/><rect x="813.99" y="277.58" width="3.8" height="3.8"/><rect x="815.14" y="277.79" width="3.8" height="3.8"/><rect x="816.28" y="277.98" width="3.8" height="3.8"/><rect x="817.42" y="278.15" width="3.8" height="3.8"/><rect x="818.57" y="278.33" width="3.8" height="3.8"/><rect x="819.71" y="278.51" width="3.8" height="3.8"/><rect x="820.86" y="278.69" width="3.8" height="3.8"/><rect x="822.00" y="278.88" width="3.8" height="3.8"/><rect x="823.14" y="279.08" width="3.8" height="3.8"/><rect x="824.29" y="279.27" width="3.8" height="3.8"/><rect x="825.43" y="279.46" width="3.8" height="3.8"/><rect x="826.58" y="279.67" width="3.8" height="3.8"/><rect x="827.72" y="279.88" width="3.8" height="3.8"/><rect x="828.86" y="280.10" width="3.8" height="3.8"/><rect x="830.01" y="280.30" width="3.8" height="3.8"/><rect x="831.15" y="280.51" width="3.8" height="3.8"/><rect x="832.29" y="280.72" width="3.8" height="3.8"/><rect x="833.44" y="280.94" width="3.8" height="3.8"/><rect x="834.58" y="281.14" width="3.8" height="3.8"/><rect x="835.73" y="281.33" width="3.8" height="3.8"/><rect x="836.87" y="281.52" width="3.8" height="3.8"/><rect x="838.01" y="281.72" width="3.8" height="3.8"/><rect x="839.16" y="281.92" width="3.8" height="3.8"/><rect x="840.30" y="282.12" width="3.8" height="3.8"/><rect x="841.44" y="282.33" width="3.8" height="3.8"/><rect x="842.59" y="282.54" width="3.8" height="3.8"/><rect x="843.73" y="282.72" width="3.8" height="3.8"/><rect x="844.88" y="282.91" width="3.8" height="3.8"/><rect x="846.02" y="283.10" width="3.8" height="3.8"/><rect x="847.16" y="283.30" width="3.8" height="3.8"/><rect x="848.31" y="283.49" width="3.8" height="3.8"/><rect x="849.45" y="283.70" width="3.8" height="3.8"/><rect x="850.60" y="283.91" width="3.8" height="3.8"/><rect x="851.74" y="284.12" width="3.8" height="3.8"/><rect x="852.88" y="284.33" width="3.8" height="3.8"/><rect x="854.03" y="284.52" width="3.8" height="3.8"/><rect x="855.17" y="284.66" width="3.8" height="3.8"/><rect x="856.31" y="284.80" width="3.8" height="3.8"/><rect x="857.46" y="284.94" width="3.8" height="3.8"/><rect x="858.60" y="285.08" width="3.8" height="3.8"/><rect x="859.75" y="285.23" width="3.8" height="3.8"/><rect x="860.89" y="285.37" width="3.8" height="3.8"/><rect x="862.03" y="285.53" width="3.8" height="3.8"/><rect x="863.18" y="285.66" width="3.8" height="3.8"/><rect x="864.32" y="285.78" width="3.8" height="3.8"/><rect x="865.47" y="285.90" width="3.8" height="3.8"/><rect x="866.61" y="286.03" width="3.8" height="3.8"/><rect x="867.75" y="286.15" width="3.8" height="3.8"/><rect x="868.90" y="286.27" width="3.8" height="3.8"/><rect x="870.04" y="286.37" width="3.8" height="3.8"/><rect x="871.18" y="286.46" width="3.8" height="3.8"/><rect x="872.33" y="286.56" width="3.8" height="3.8"/><rect x="873.47" y="286.66" width="3.8" height="3.8"/><rect x="874.62" y="286.76" width="3.8" height="3.8"/><rect x="875.76" y="286.87" width="3.8" height="3.8"/><rect x="876.90" y="286.97" width="3.8" height="3.8"/><rect x="878.05" y="287.10" width="3.8" height="3.8"/><rect x="879.19" y="287.26" width="3.8" height="3.8"/><rect x="880.33" y="287.43" width="3.8" height="3.8"/><rect x="881.48" y="287.65" width="3.8" height="3.8"/><rect x="882.62" y="287.87" width="3.8" height="3.8"/><rect x="883.77" y="288.10" width="3.8" height="3.8"/><rect x="884.91" y="288.36" width="3.8" height="3.8"/><rect x="886.05" y="288.63" width="3.8" height="3.8"/><rect x="887.20" y="288.90" width="3.8" height="3.8"/><rect x="888.34" y="289.17" width="3.8" height="3.8"/><rect x="889.49" y="289.40" width="3.8" height="3.8"/><rect x="890.63" y="289.69" width="3.8" height="3.8"/><rect x="891.77" y="289.99" width="3.8" height="3.8"/><rect x="892.92" y="290.30" width="3.8" height="3.8"/><rect x="894.06" y="290.62" width="3.8" height="3.8"/><rect x="895.20" y="290.97" width="3.8" height="3.8"/><rect x="896.35" y="291.36" width="3.8" height="3.8"/><rect x="897.49" y="291.75" width="3.8" height="3.8"/><rect x="898.64" y="292.05" width="3.8" height="3.8"/><rect x="899.78" y="292.32" width="3.8" height="3.8"/><rect x="900.92" y="292.60" width="3.8" height="3.8"/><rect x="902.07" y="292.89" width="3.8" height="3.8"/><rect x="903.21" y="293.18" width="3.8" height="3.8"/><rect x="904.36" y="293.47" width="3.8" height="3.8"/><rect x="905.50" y="293.73" width="3.8" height="3.8"/><rect x="906.64" y="293.93" width="3.8" height="3.8"/><rect x="907.79" y="294.14" width="3.8" height="3.8"/><rect x="908.93" y="294.35" width="3.8" height="3.8"/><rect x="910.07" y="294.57" width="3.8" height="3.8"/><rect x="911.22" y="294.79" width="3.8" height="3.8"/><rect x="912.36" y="295.02" width="3.8" height="3.8"/><rect x="913.51" y="295.26" width="3.8" height="3.8"/><rect x="914.65" y="295.51" width="3.8" height="3.8"/><rect x="915.79" y="295.83" width="3.8" height="3.8"/><rect x="916.94" y="296.15" width="3.8" height="3.8"/><rect x="918.08" y="296.67" width="3.8" height="3.8"/><rect x="919.22" y="297.27" width="3.8" height="3.8"/><rect x="920.37" y="297.91" width="3.8" height="3.8"/><rect x="921.51" y="298.61" width="3.8" height="3.8"/><rect x="922.66" y="299.37" width="3.8" height="3.8"/><rect x="923.80" y="300.47" width="3.8" height="3.8"/><rect x="924.94" y="301.61" width="3.8" height="3.8"/><rect x="926.09" y="303.04" width="3.8" height="3.8"/><rect x="927.23" y="304.22" width="3.8" height="3.8"/><rect x="928.38" y="305.42" width="3.8" height="3.8"/><rect x="929.52" y="307.05" width="3.8" height="3.8"/><rect x="930.66" y="308.71" width="3.8" height="3.8"/><rect x="931.81" y="310.50" width="3.8" height="3.8"/><rect x="932.95" y="312.29" width="3.8" height="3.8"/><rect x="934.09" y="313.94" width="3.8" height="3.8"/><rect x="935.24" y="315.47" width="3.8" height="3.8"/><rect x="936.38" y="317.00" width="3.8" height="3.8"/><rect x="937.53" y="318.46" width="3.8" height="3.8"/><rect x="938.67" y="319.94" width="3.8" height="3.8"/><rect x="939.81" y="321.38" width="3.8" height="3.8"/><rect x="940.96" y="322.85" width="3.8" height="3.8"/><rect x="942.10" y="324.27" width="3.8" height="3.8"/><rect x="943.25" y="325.73" width="3.8" height="3.8"/><rect x="944.39" y="327.38" width="3.8" height="3.8"/><rect x="945.53" y="329.05" width="3.8" height="3.8"/><rect x="946.68" y="330.37" width="3.8" height="3.8"/><rect x="947.82" y="331.55" width="3.8" height="3.8"/><rect x="948.96" y="332.61" width="3.8" height="3.8"/><rect x="950.11" y="334.19" width="3.8" height="3.8"/><rect x="951.25" y="335.64" width="3.8" height="3.8"/><rect x="952.40" y="337.01" width="3.8" height="3.8"/><rect x="953.54" y="337.93" width="3.8" height="3.8"/><rect x="954.68" y="338.77" width="3.8" height="3.8"/><rect x="955.83" y="339.52" width="3.8" height="3.8"/><rect x="956.97" y="340.53" width="3.8" height="3.8"/><rect x="958.11" y="342.24" width="3.8" height="3.8"/><rect x="959.26" y="344.18" width="3.8" height="3.8"/><rect x="960.40" y="345.45" width="3.8" height="3.8"/><rect x="961.55" y="346.46" width="3.8" height="3.8"/><rect x="962.69" y="347.87" width="3.8" height="3.8"/><rect x="963.83" y="349.32" width="3.8" height="3.8"/><rect x="964.98" y="350.82" width="3.8" height="3.8"/><rect x="966.12" y="351.79" width="3.8" height="3.8"/><rect x="967.27" y="352.75" width="3.8" height="3.8"/><rect x="968.41" y="353.55" width="3.8" height="3.8"/><rect x="969.55" y="363.49" width="3.8" height="3.8"/><rect x="970.70" y="354.51" width="3.8" height="3.8"/><rect x="971.84" y="354.51" width="3.8" height="3.8"/><rect x="972.98" y="355.66" width="3.8" height="3.8"/><rect x="974.13" y="358.56" width="3.8" height="3.8"/><rect x="975.27" y="360.50" width="3.8" height="3.8"/><rect x="976.42" y="363.66" width="3.8" height="3.8"/><rect x="977.56" y="365.77" width="3.8" height="3.8"/><rect x="978.70" y="368.54" width="3.8" height="3.8"/><rect x="979.85" y="371.40" width="3.8" height="3.8"/><rect x="980.99" y="373.51" width="3.8" height="3.8"/><rect x="982.14" y="377.08" width="3.8" height="3.8"/><rect x="983.28" y="379.50" width="3.8" height="3.8"/><rect x="984.42" y="379.50" width="3.8" height="3.8"/><rect x="985.57" y="379.50" width="3.8" height="3.8"/><rect x="986.71" y="389.57" width="3.8" height="3.8"/><rect x="987.85" y="391.20" width="3.8" height="3.8"/><rect x="989.00" y="390.54" width="3.8" height="3.8"/><rect x="990.14" y="391.20" width="3.8" height="3.8"/></g>
<polyline clip-path="url(#ci)" points="750.70,273.02 751.84,273.02 752.98,273.03 754.13,273.03 755.27,273.04 756.41,273.04 757.56,273.05 758.70,273.05 759.85,273.06 760.99,273.06 762.13,273.08 763.28,273.17 764.42,273.26 765.56,273.36 766.71,273.45 767.85,273.55 769.00,273.64 770.14,273.74 771.28,273.85 772.43,273.95 773.57,274.06 774.72,274.16 775.86,274.27 777.00,274.39 778.15,274.50 779.29,274.62 780.43,274.74 781.58,274.86 782.72,274.98 783.87,275.11 785.01,275.24 786.15,275.37 787.30,275.49 788.44,275.62 789.59,275.74 790.73,275.87 791.87,276.00 793.02,276.13 794.16,276.27 795.30,276.40 796.45,276.54 797.59,276.69 798.74,276.83 799.88,276.99 801.02,277.14 802.17,277.30 803.31,277.46 804.45,277.63 805.60,277.80 806.74,277.97 807.89,278.14 809.03,278.32 810.17,278.51 811.32,278.69 812.46,278.89 813.61,279.08 814.75,279.28 815.89,279.48 817.04,279.69 818.18,279.88 819.32,280.05 820.47,280.23 821.61,280.41 822.76,280.59 823.90,280.78 825.04,280.98 826.19,281.17 827.33,281.36 828.48,281.57 829.62,281.78 830.76,282.00 831.91,282.20 833.05,282.41 834.19,282.62 835.34,282.84 836.48,283.04 837.63,283.23 838.77,283.42 839.91,283.62 841.06,283.82 842.20,284.02 843.34,284.23 844.49,284.44 845.63,284.62 846.78,284.81 847.92,285.00 849.06,285.20 850.21,285.39 851.35,285.60 852.50,285.81 853.64,286.02 854.78,286.23 855.93,286.42 857.07,286.56 858.21,286.70 859.36,286.84 860.50,286.98 861.65,287.13 862.79,287.27 863.93,287.43 865.08,287.56 866.22,287.68 867.37,287.80 868.51,287.93 869.65,288.05 870.80,288.17 871.94,288.27 873.08,288.36 874.23,288.46 875.37,288.56 876.52,288.66 877.66,288.77 878.80,288.87 879.95,289.00 881.09,289.16 882.23,289.33 883.38,289.55 884.52,289.77 885.67,290.00 886.81,290.26 887.95,290.53 889.10,290.80 890.24,291.07 891.39,291.30 892.53,291.59 893.67,291.89 894.82,292.20 895.96,292.52 897.10,292.87 898.25,293.26 899.39,293.65 900.54,293.95 901.68,294.22 902.82,294.50 903.97,294.79 905.11,295.08 906.26,295.37 907.40,295.63 908.54,295.83 909.69,296.04 910.83,296.25 911.97,296.47 913.12,296.69 914.26,296.92 915.41,297.16 916.55,297.41 917.69,297.73 918.84,298.05 919.98,298.57 921.12,299.17 922.27,299.81 923.41,300.51 924.56,301.27 925.70,302.37 926.84,303.51 927.99,304.94 929.13,306.12 930.28,307.32 931.42,308.95 932.56,310.61 933.71,312.40 934.85,314.19 935.99,315.84 937.14,317.37 938.28,318.90 939.43,320.36 940.57,321.84 941.71,323.28 942.86,324.75 944.00,326.17 945.15,327.63 946.29,329.28 947.43,330.95 948.58,332.27 949.72,333.45 950.86,334.51 952.01,336.09 953.15,337.54 954.30,338.91 955.44,339.83 956.58,340.67 957.73,341.42 958.87,342.43 960.01,344.14 961.16,346.08 962.30,347.35 963.45,348.36 964.59,349.77 965.73,351.22 966.88,352.72 968.02,353.69 969.17,354.65 970.31,355.45 971.45,365.39" fill="none" stroke="#2a2a2a" stroke-width="0.9"/>
<g stroke="#333" stroke-width="0.9"><line x1="972.74" y1="356.41" x2="974.74" y2="356.41"/><line x1="973.88" y1="357.56" x2="975.88" y2="357.56"/><line x1="975.03" y1="360.46" x2="977.03" y2="360.46"/><line x1="976.17" y1="362.40" x2="978.17" y2="362.40"/><line x1="977.32" y1="365.56" x2="979.32" y2="365.56"/><line x1="978.46" y1="367.67" x2="980.46" y2="367.67"/><line x1="979.60" y1="370.44" x2="981.60" y2="370.44"/><line x1="980.75" y1="373.30" x2="982.75" y2="373.30"/><line x1="981.89" y1="375.41" x2="983.89" y2="375.41"/><line x1="983.04" y1="378.98" x2="985.04" y2="378.98"/><line x1="984.18" y1="381.40" x2="986.18" y2="381.40"/><line x1="985.32" y1="381.40" x2="987.32" y2="381.40"/><line x1="986.47" y1="381.40" x2="988.47" y2="381.40"/><line x1="987.61" y1="391.47" x2="989.61" y2="391.47"/><line x1="988.75" y1="393.10" x2="990.75" y2="393.10"/><line x1="989.90" y1="392.44" x2="991.90" y2="392.44"/><line x1="991.04" y1="393.10" x2="993.04" y2="393.10"/></g>
<text x="223.00" y="847.80" font-size="8.2" text-anchor="start" fill="#000" stroke="#000" stroke-width="0.2">/data/P4STORE/UGC08040/SERSIC_NS/UGC08040_b.outgal_1dprof</text>
<text x="1090.60" y="848.00" font-size="8.2" text-anchor="end" fill="#000" stroke="#000" stroke-width="0.2">s4g@fys091005&#160; Fri Jun&#160; 6 11:58:03 2014</text>
</svg>
</body></html>
